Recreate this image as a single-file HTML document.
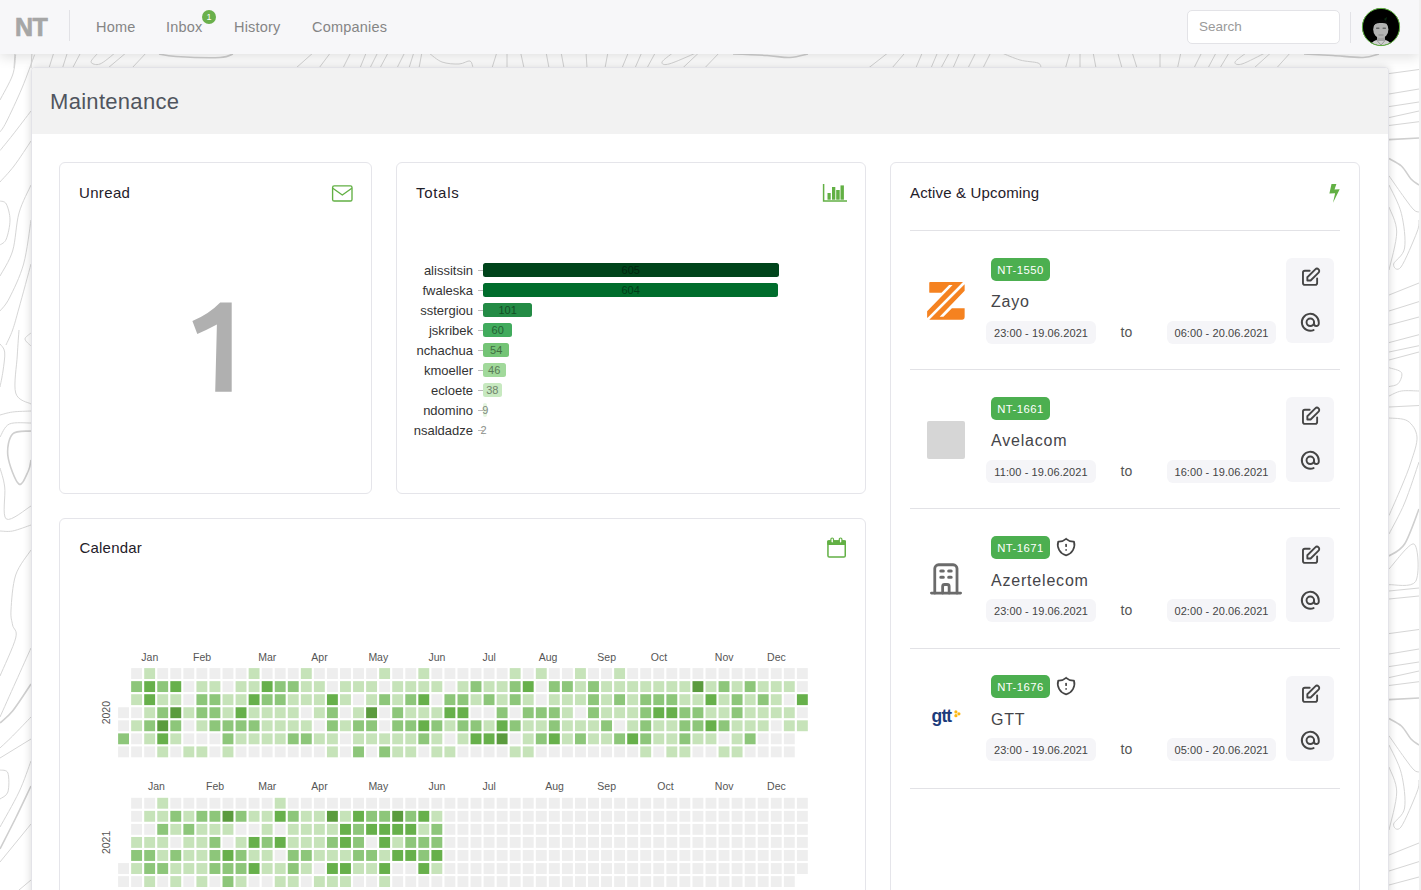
<!DOCTYPE html>
<html><head><meta charset="utf-8"><title>Maintenance</title>
<style>
*{box-sizing:border-box}
html,body{margin:0;padding:0;width:1421px;height:890px;overflow:hidden;background:#fff;font-family:"Liberation Sans",sans-serif;color:#333}
.a{position:absolute;white-space:nowrap}
.t{position:absolute;white-space:nowrap;line-height:1}
#nav{position:absolute;left:0;top:0;width:1419px;height:53.7px;background:#f7f7f9;box-shadow:0 3px 12px rgba(0,0,0,.13);z-index:5}
#sb{position:absolute;left:1419px;top:0;width:2px;height:890px;background:#f0f0f0;z-index:6}
.nl{position:absolute;font-size:14.5px;line-height:1;color:#858585;letter-spacing:.2px}
#cont{position:absolute;left:31px;top:67px;width:1358px;height:900px;background:#fff;border:1px solid #e3e3e8;border-radius:4px;box-shadow:0 0 8px rgba(0,0,0,.16);overflow:hidden}
#hdr{position:absolute;left:0;top:0;width:100%;height:66px;background:#f2f2f2}
.card{position:absolute;border:1px solid #e5e5ea;border-radius:6px;background:#fff}
.ct{position:absolute;font-size:15px;line-height:1;color:#1f2029}
.pill{position:absolute;height:22.5px;border-radius:6px;background:#f5f5f8;font-size:11px;color:#444;line-height:24px;text-align:center;letter-spacing:.1px}
.badge{position:absolute;height:23px;border-radius:5px;background:#4caf50;color:#fff;font-size:11.3px;line-height:25px;text-align:center;letter-spacing:.45px}
.cname{position:absolute;font-size:16px;line-height:1;color:#454549;letter-spacing:.8px}
.to{position:absolute;font-size:14px;line-height:1;color:#555}
.act{position:absolute;width:48px;height:85px;border-radius:6px;background:#f5f5f8}
.sep{position:absolute;left:910px;width:430px;height:1px;background:#e2e2e6}
.bl{position:absolute;font-size:13px;line-height:1;color:#333;text-align:right;width:80px}
.bar{position:absolute;height:14px;border-radius:2.5px}
.tick{position:absolute;width:5px;height:1px;background:#bbb}
.bv{position:absolute;font-size:11px;line-height:1;text-align:center}
</style></head>
<body>
<svg class="a" style="left:0;top:0" width="1421" height="890" fill="none"><path d="M15.0 52.0 L14.0 68.0 M32.0 52.0 L31.0 68.0 M54.0 52.0 L49.0 68.0 M67.6 52.0 L62.5 68.0 M81.0 52.0 L72.6 68.0 M127.0 52.0 L108.0 68.0 M147.0 52.0 L132.0 68.0 M314.0 52.0 L296.0 68.0 M331.0 52.0 L319.0 68.0 M351.0 52.0 L343.0 68.0 M366.5 52.0 L360.0 68.0 M378.0 52.0 L370.0 68.0 M388.5 52.0 L380.0 68.0 M405.0 52.0 L397.0 68.0 M414.0 52.0 L409.0 68.0 M422.0 52.0 L419.0 68.0 M497.0 52.0 L492.0 68.0 M507.0 52.0 L507.0 68.0 M520.5 52.0 L524.0 68.0 M546.0 52.0 L549.0 68.0 M561.0 52.0 L564.0 68.0 M586.0 52.0 L587.0 68.0 M608.0 52.0 L605.0 68.0 M628.6 52.0 L622.0 68.0 M642.0 52.0 L635.0 68.0 M655.7 52.0 L647.0 68.0 M699.6 52.0 L682.7 68.0 M720.0 52.0 L704.7 68.0 M889.0 52.0 L868.5 68.0 M905.7 52.0 L892.0 68.0 M922.6 52.0 L915.8 68.0 M937.8 52.0 L931.0 68.0 M949.6 52.0 L941.0 68.0 M960.0 52.0 L953.0 68.0 M976.0 52.0 L968.0 68.0 M991.0 52.0 L983.0 68.0 M1070.0 52.0 L1065.5 68.0 M1080.0 52.0 L1080.0 68.0 M1093.0 52.0 L1096.0 68.0 M1117.5 52.0 L1122.0 68.0 M1132.0 52.0 L1137.0 68.0 M1160.0 52.0 L1160.0 68.0 M1181.0 52.0 L1177.5 68.0 M1202.0 52.0 L1194.0 68.0 M1216.5 52.0 L1208.0 68.0 M1229.5 52.0 L1220.0 68.0 M1271.7 52.0 L1254.0 68.0 M1291.0 52.0 L1276.6 68.0 M98.0 53.0 C96.8 54.5 90.7 60.2 91.0 62.0 C91.3 63.8 96.0 65.5 100.0 64.0 C104.0 62.5 112.5 54.8 115.0 53.0 M429.0 53.0 C431.2 54.5 437.0 60.2 442.0 62.0 C447.0 63.8 454.3 64.2 459.0 64.0 C463.7 63.8 467.7 60.3 470.0 61.0 C472.3 61.7 472.5 66.8 473.0 68.0 M672.6 53.0 C670.8 54.5 662.6 60.2 662.0 62.0 C661.4 63.8 663.3 65.5 669.0 64.0 C674.7 62.5 691.5 54.8 696.0 53.0 M1002.0 53.0 C1005.0 54.2 1014.0 58.3 1020.0 60.0 C1026.0 61.7 1034.5 61.7 1038.0 63.0 C1041.5 64.3 1040.5 67.2 1041.0 68.0 M1246.0 53.0 C1244.2 54.5 1235.7 60.2 1235.0 62.0 C1234.3 63.8 1237.0 65.5 1242.0 64.0 C1247.0 62.5 1261.2 54.8 1265.0 53.0 M15.7 54.7 C15.2 58.1 15.2 67.5 12.6 75.0 C10.0 82.5 2.1 95.8 0.0 100.0 M34.6 54.7 C32.5 60.2 26.7 76.8 22.0 88.0 C17.3 99.2 10.0 114.7 6.3 122.0 C2.6 129.3 1.1 130.3 0.0 132.0 M31.0 111.0 C27.9 115.0 17.8 128.4 12.6 135.0 C7.4 141.6 2.1 148.0 0.0 150.6 M31.0 141.0 C28.2 145.2 19.2 159.2 14.0 166.0 C8.8 172.8 2.3 179.3 0.0 182.0 M0.0 201.0 C1.1 201.5 4.6 200.8 6.3 204.0 C8.0 207.2 10.0 214.2 10.0 220.0 C10.0 225.8 8.0 234.8 6.3 239.0 C4.6 243.2 1.1 244.0 0.0 245.0 M31.0 185.0 C29.0 189.7 22.1 202.0 19.0 213.0 C15.9 224.0 15.8 240.5 12.6 251.0 C9.4 261.5 2.1 271.8 0.0 276.0 M31.0 220.0 C29.8 227.3 27.2 251.0 23.6 264.0 C20.0 277.0 13.3 290.2 9.4 298.0 C5.5 305.8 1.6 308.8 0.0 311.0 M31.0 264.0 C29.0 271.3 22.1 297.0 19.0 308.0 C15.9 319.0 14.8 323.8 12.6 330.0 C10.4 336.2 7.1 342.5 6.0 345.0 M31.0 333.0 C30.0 334.0 25.0 336.8 25.0 339.0 C25.0 341.2 30.0 344.8 31.0 346.0 M19.0 330.0 C18.7 334.2 17.9 344.5 17.3 355.0 C16.8 365.5 13.4 384.8 15.7 393.0 C18.0 401.2 28.4 402.2 31.0 404.0 M0.0 344.0 C0.8 345.3 4.2 347.5 4.7 352.0 C5.2 356.5 3.8 365.2 3.0 371.0 C2.2 376.8 0.5 384.3 0.0 387.0 M0.0 415.0 C2.1 414.5 7.4 412.7 12.6 412.0 C17.8 411.3 27.9 411.2 31.0 411.0 M31.0 423.0 C27.4 423.2 14.6 421.7 9.4 424.0 C4.2 426.3 1.6 434.8 0.0 437.0 M0.0 468.0 C0.8 471.2 3.7 478.5 4.7 487.0 C5.8 495.5 1.9 515.8 6.3 519.0 C10.7 522.2 26.9 508.2 31.0 506.0 M0.0 531.0 C2.1 531.0 7.4 532.0 12.6 531.0 C17.8 530.0 27.9 526.0 31.0 525.0 M31.0 550.0 C28.4 554.2 19.0 565.0 15.7 575.0 C12.4 585.0 11.5 601.7 11.0 610.0 C10.5 618.3 11.8 620.3 12.6 625.0 C13.4 629.7 17.8 629.5 15.7 638.0 C13.6 646.5 2.6 669.7 0.0 676.0 M31.0 648.0 C28.4 653.7 20.9 670.5 15.7 682.0 C10.5 693.5 2.6 711.2 0.0 717.0 M31.0 717.0 C27.9 720.2 17.8 730.8 12.6 736.0 C7.4 741.2 2.1 746.0 0.0 748.0 M31.0 739.0 L0.0 758.0 M0.0 770.0 C1.3 770.5 6.6 769.3 7.9 773.0 C9.2 776.7 9.2 787.7 7.9 792.0 C6.6 796.3 1.3 797.8 0.0 799.0 M31.0 761.0 C29.0 766.2 24.2 781.0 19.0 792.0 C13.8 803.0 3.2 821.2 0.0 827.0 M31.0 824.0 L0.0 862.0 M31.0 880.0 L19.0 890.0 M1389.0 73.6 L1419.0 69.5 M1389.0 94.0 L1419.0 89.0 M1389.0 106.6 L1419.0 102.0 M1389.0 117.6 L1419.0 111.0 M1389.0 125.5 L1419.0 121.7 M1389.0 175.8 C1391.6 179.5 1400.4 192.3 1404.6 198.0 C1408.8 203.7 1411.6 207.7 1414.0 210.0 C1416.4 212.3 1418.2 211.7 1419.0 212.0 M1389.0 207.0 C1390.3 211.2 1396.7 221.5 1396.7 232.0 C1396.7 242.5 1390.3 263.7 1389.0 270.0 M1389.0 185.0 C1391.1 189.8 1398.8 203.0 1401.4 213.5 C1404.0 224.0 1405.9 239.6 1404.6 248.0 C1403.3 256.4 1394.2 260.8 1393.6 264.0 C1393.0 267.2 1397.1 272.3 1401.0 267.0 C1404.9 261.7 1414.0 239.8 1417.0 232.0 C1420.0 224.2 1418.7 222.0 1419.0 220.0 M1389.0 295.0 L1419.0 283.0 M1389.0 311.0 L1419.0 301.6 M1389.0 325.0 L1419.0 317.0 M1389.0 633.6 L1419.0 629.5 M1389.0 654.0 L1419.0 649.0 M1389.0 666.6 L1419.0 662.0 M1389.0 677.6 L1419.0 671.0 M1389.0 685.5 L1419.0 681.7 M1389.0 735.8 C1391.6 739.5 1400.4 752.3 1404.6 758.0 C1408.8 763.7 1411.6 767.7 1414.0 770.0 C1416.4 772.3 1418.2 771.7 1419.0 772.0 M1389.0 767.0 C1390.3 771.2 1396.7 781.5 1396.7 792.0 C1396.7 802.5 1390.3 823.7 1389.0 830.0 M1389.0 745.0 C1391.1 749.8 1398.8 763.0 1401.4 773.5 C1404.0 784.0 1405.9 799.6 1404.6 808.0 C1403.3 816.4 1394.2 820.8 1393.6 824.0 C1393.0 827.2 1397.1 832.3 1401.0 827.0 C1404.9 821.7 1414.0 799.8 1417.0 792.0 C1420.0 784.2 1418.7 782.0 1419.0 780.0 M1389.0 855.0 L1419.0 843.0 M1389.0 871.0 L1419.0 861.6 M1389.0 885.0 L1419.0 877.0 M1389.0 342.6 L1419.0 334.7 M1389.0 352.0 L1419.0 345.7 M1389.0 360.0 L1419.0 352.0 M1389.0 367.7 C1391.1 368.5 1399.9 369.9 1401.4 372.5 C1403.0 375.1 1400.4 381.1 1398.3 383.5 C1396.2 385.9 1390.5 386.1 1389.0 386.6 M1389.0 396.0 C1391.1 395.2 1396.4 391.8 1401.4 391.0 C1406.4 390.2 1416.1 391.0 1419.0 391.0 M1389.0 407.0 L1419.0 405.5 M1389.0 418.0 C1392.1 418.5 1403.0 417.8 1407.7 421.0 C1412.4 424.2 1416.5 430.2 1417.0 437.0 C1417.5 443.8 1413.6 453.7 1411.0 462.0 C1408.4 470.3 1405.1 478.1 1401.4 487.0 C1397.7 495.9 1391.1 510.8 1389.0 515.5 M1419.0 462.0 C1416.6 468.8 1409.6 491.0 1404.6 503.0 C1399.6 515.0 1391.6 528.8 1389.0 534.0 M1389.0 569.0 C1393.2 564.8 1409.6 541.9 1414.0 544.0 C1418.4 546.1 1419.8 574.7 1415.6 581.5 C1411.4 588.3 1393.4 584.2 1389.0 584.7 M1389.0 591.0 L1419.0 588.0 M1389.0 599.0 L1419.0 596.0" stroke="#d6d6d6" stroke-width="1"/><path d="M159.0 54.0 C161.8 54.4 165.8 55.9 176.0 56.5 C186.2 57.1 210.5 57.9 220.0 57.5 C229.5 57.1 230.8 54.6 233.0 54.0 M733.0 54.0 C738.7 54.2 757.5 54.9 767.0 55.5 C776.5 56.1 783.2 57.8 790.0 57.5 C796.8 57.2 805.0 54.6 808.0 54.0 M1304.0 54.0 C1308.8 54.2 1323.2 54.9 1333.0 55.5 C1342.8 56.1 1355.3 57.8 1363.0 57.5 C1370.7 57.2 1376.3 54.6 1379.0 54.0 M31.0 431.0 C27.9 431.5 16.4 429.8 12.6 434.0 C8.8 438.2 6.9 447.7 7.9 456.0 C8.9 464.3 15.5 481.5 18.9 484.0 C22.3 486.5 26.3 475.0 28.3 471.0 C30.3 467.0 30.6 461.8 31.0 460.0 M31.0 684.0 C27.9 688.5 17.8 704.5 12.6 711.0 C7.4 717.5 2.1 721.0 0.0 723.0 M31.0 786.0 C28.4 791.3 20.9 807.5 15.7 818.0 C10.5 828.5 2.6 843.8 0.0 849.0 M1389.0 139.6 L1419.0 138.0 M1389.0 158.5 C1391.1 159.8 1397.7 162.6 1401.4 166.0 C1405.1 169.4 1408.1 175.8 1411.0 179.0 C1413.9 182.2 1417.7 184.0 1419.0 185.0 M1389.0 699.6 L1419.0 698.0 M1389.0 718.5 C1391.1 719.8 1397.7 722.6 1401.4 726.0 C1405.1 729.4 1408.1 735.8 1411.0 739.0 C1413.9 742.2 1417.7 744.0 1419.0 745.0 M1419.0 509.0 C1416.6 514.8 1409.6 536.2 1404.6 544.0 C1399.6 551.8 1391.6 554.0 1389.0 556.0" stroke="#cfcfcf" stroke-width="1.6"/></svg>
<div id="nav">
  <div class="t" style="left:15px;top:15.2px;font-size:25px;font-weight:bold;color:#a6a6a6;letter-spacing:-0.6px;-webkit-text-stroke:.7px #a6a6a6">NT</div>
  <div class="a" style="left:69px;top:10px;width:1px;height:31px;background:#e2e2e6"></div>
  <div class="nl" style="left:96px;top:20px">Home</div>
  <div class="nl" style="left:166px;top:20px">Inbox</div>
  <div class="a" style="left:202px;top:10px;width:14px;height:14px;border-radius:50%;background:#6ab04c;color:#fff;font-size:9px;line-height:14px;text-align:center">1</div>
  <div class="nl" style="left:234px;top:20px">History</div>
  <div class="nl" style="left:312px;top:20px">Companies</div>
  <div class="a" style="left:1187px;top:10px;width:153px;height:34px;border:1px solid #e3e3e7;border-radius:5px;background:#fff"></div>
  <div class="t" style="left:1199px;top:20.2px;font-size:13.5px;color:#9a9a9a">Search</div>
  <div class="a" style="left:1350px;top:12px;width:1px;height:31px;background:#e2e2e6"></div>
  <svg class="a" style="left:1361px;top:7px" width="40" height="40" viewBox="0 0 40 40">
    <defs><clipPath id="avc"><circle cx="20" cy="20" r="18.3"/></clipPath></defs>
    <circle cx="20" cy="20" r="18.8" fill="#000"/>
    <g clip-path="url(#avc)">
      <path d="M9 40 Q10 33 20 32 Q30 33 31 40Z" fill="#cfcfcf"/>
      <path d="M15.5 33 L20 38 L24.5 33" fill="none" stroke="#888" stroke-width=".8"/>
      <rect x="16" y="27" width="8" height="7" fill="#a0a0a0"/>
      <ellipse cx="19.8" cy="22.5" rx="7.6" ry="8.8" fill="#b2b2b2"/>
      <path d="M11.5 20 Q11 12 19.5 12.5 Q27 12 28.5 19 Q26 15.5 20 16 Q14 15.5 11.5 20Z" fill="#050505"/>
      <path d="M23 12 L26 10 L25 14Z" fill="#0a2a10"/>
      <rect x="15" y="20.5" width="3.5" height="1.4" rx=".6" fill="#666"/><rect x="21.5" y="20.5" width="3.5" height="1.4" rx=".6" fill="#666"/>
      <rect x="17.5" y="27.5" width="5" height="1" fill="#888"/>
    </g>
    <circle cx="20" cy="20" r="18.6" fill="none" stroke="#5fb33f" stroke-width="1"/>
  </svg>
</div>
<div id="sb"></div>

<div id="cont"><div id="hdr"></div></div>
<div class="t" style="left:50px;top:90.5px;font-size:22px;color:#50555e;letter-spacing:.3px">Maintenance</div>

<!-- Unread -->
<div class="card" style="left:59px;top:162px;width:313px;height:332px"></div>
<div class="ct" style="left:79px;top:185.3px;letter-spacing:.35px">Unread</div>
<svg class="a" style="left:331px;top:184px" width="23" height="19" viewBox="0 0 23 19">
  <rect x="1.6" y="1.8" width="19.4" height="15.2" rx="1.6" fill="none" stroke="#62b044" stroke-width="1.35"/>
  <path d="M1.8 4.2 L11.3 11 L20.8 4.2" fill="none" stroke="#62b044" stroke-width="1.35" stroke-linejoin="round"/>
</svg>
<svg class="a" style="left:0;top:0" width="300" height="400"><path d="M220.2 302.4 H231.7 V391.7 H215.2 L216.9 324.6 Q207 330 197.3 333.9 L192.4 320.9 Q209 314 220.2 302.4Z" fill="#b0b0b0"/></svg>

<!-- Totals -->
<div class="card" style="left:396px;top:162px;width:470px;height:332px"></div>
<div class="ct" style="left:416px;top:185.3px;letter-spacing:.7px">Totals</div>
<svg class="a" style="left:821px;top:182px" width="28" height="22" viewBox="0 0 28 22">
  <path d="M2.6 2 V18.9 H26" fill="none" stroke="#62b044" stroke-width="1.5"/>
  <rect x="6.5" y="11" width="3.2" height="6.7" fill="#62b044"/>
  <rect x="11" y="5" width="3.3" height="12.7" fill="#62b044"/>
  <rect x="15.2" y="8" width="3.5" height="9.7" fill="#62b044"/>
  <rect x="19.5" y="3.4" width="3.4" height="14.3" fill="#62b044"/>
</svg>
<div class="bl" style="left:393px;top:263.7px">alissitsin</div><div class="tick" style="left:478px;top:269.9px"></div><div class="bar" style="left:483px;top:263.4px;width:295.6px;background:#00441b"></div><div class="bv" style="left:610.8px;top:265.1px;width:40px;color:#00260f">605</div><div class="bl" style="left:393px;top:283.7px">fwaleska</div><div class="tick" style="left:478px;top:289.9px"></div><div class="bar" style="left:483px;top:283.4px;width:295.1px;background:#006d2c"></div><div class="bv" style="left:610.6px;top:285.1px;width:40px;color:#003d18">604</div><div class="bl" style="left:393px;top:303.7px">sstergiou</div><div class="tick" style="left:478px;top:309.9px"></div><div class="bar" style="left:483px;top:303.4px;width:49.3px;background:#238b45"></div><div class="bv" style="left:487.7px;top:305.1px;width:40px;color:#134e26">101</div><div class="bl" style="left:393px;top:323.7px">jskribek</div><div class="tick" style="left:478px;top:329.9px"></div><div class="bar" style="left:483px;top:323.4px;width:29.3px;background:#41ab5d"></div><div class="bv" style="left:477.7px;top:325.1px;width:40px;color:#246034">60</div><div class="bl" style="left:393px;top:343.7px">nchachua</div><div class="tick" style="left:478px;top:349.9px"></div><div class="bar" style="left:483px;top:343.4px;width:26.4px;background:#74c476"></div><div class="bv" style="left:476.2px;top:345.1px;width:40px;color:#416e42">54</div><div class="bl" style="left:393px;top:363.7px">kmoeller</div><div class="tick" style="left:478px;top:369.9px"></div><div class="bar" style="left:483px;top:363.4px;width:22.5px;background:#a1d99b"></div><div class="bv" style="left:474.2px;top:365.1px;width:40px;color:#5a7a57">46</div><div class="bl" style="left:393px;top:383.7px">ecloete</div><div class="tick" style="left:478px;top:389.9px"></div><div class="bar" style="left:483px;top:383.4px;width:18.6px;background:#c7e9c0"></div><div class="bv" style="left:472.3px;top:385.1px;width:40px;color:#70836c">38</div><div class="bl" style="left:393px;top:403.7px">ndomino</div><div class="tick" style="left:478px;top:409.9px"></div><div class="bar" style="left:483px;top:403.4px;width:4.4px;background:#e5f5e0"></div><div class="bv" style="left:465.2px;top:405.1px;width:40px;color:#818a7e">9</div><div class="bl" style="left:393px;top:423.7px">nsaldadze</div><div class="tick" style="left:478px;top:429.9px"></div><div class="bar" style="left:483px;top:423.4px;width:1.0px;background:#f7fcf5"></div><div class="bv" style="left:463.5px;top:425.1px;width:40px;color:#8b8e8a">2</div>

<!-- Calendar -->
<div class="card" style="left:59px;top:518px;width:807px;height:420px"></div>
<div class="ct" style="left:79.5px;top:540px;letter-spacing:.2px">Calendar</div>
<svg class="a" style="left:825px;top:535px" width="23" height="25" viewBox="0 0 23 25">
  <rect x="2.95" y="6.05" width="17.3" height="15.9" rx="1.3" fill="none" stroke="#62b044" stroke-width="1.5"/>
  <rect x="2.2" y="5.3" width="18.8" height="4.6" rx="1" fill="#62b044"/>
  <rect x="5.9" y="3" width="2.6" height="5" rx="1.3" fill="#fff" stroke="#62b044" stroke-width="1.2"/>
  <rect x="14.3" y="3" width="2.6" height="5" rx="1.3" fill="#fff" stroke="#62b044" stroke-width="1.2"/>
</svg>
<svg class="cal" width="1421" height="890" style="position:absolute;left:0;top:0" font-family="Liberation Sans, sans-serif" font-size="10.5" fill="#555"><rect x="118.10" y="707.26" width="10.9" height="10.9" fill="#eeeeee"/><rect x="118.10" y="720.32" width="10.9" height="10.9" fill="#eeeeee"/><rect x="118.10" y="733.37" width="10.9" height="10.9" fill="#8dc67a"/><rect x="118.10" y="746.42" width="10.9" height="10.9" fill="#eeeeee"/><rect x="131.15" y="668.10" width="10.9" height="10.9" fill="#eeeeee"/><rect x="131.15" y="681.15" width="10.9" height="10.9" fill="#8dc67a"/><rect x="131.15" y="694.21" width="10.9" height="10.9" fill="#c6e3b9"/><rect x="131.15" y="707.26" width="10.9" height="10.9" fill="#eeeeee"/><rect x="131.15" y="720.32" width="10.9" height="10.9" fill="#c6e3b9"/><rect x="131.15" y="733.37" width="10.9" height="10.9" fill="#eeeeee"/><rect x="131.15" y="746.42" width="10.9" height="10.9" fill="#eeeeee"/><rect x="144.21" y="668.10" width="10.9" height="10.9" fill="#c6e3b9"/><rect x="144.21" y="681.15" width="10.9" height="10.9" fill="#67b04b"/><rect x="144.21" y="694.21" width="10.9" height="10.9" fill="#67b04b"/><rect x="144.21" y="707.26" width="10.9" height="10.9" fill="#c6e3b9"/><rect x="144.21" y="720.32" width="10.9" height="10.9" fill="#8dc67a"/><rect x="144.21" y="733.37" width="10.9" height="10.9" fill="#c6e3b9"/><rect x="144.21" y="746.42" width="10.9" height="10.9" fill="#eeeeee"/><rect x="157.26" y="668.10" width="10.9" height="10.9" fill="#eeeeee"/><rect x="157.26" y="681.15" width="10.9" height="10.9" fill="#8dc67a"/><rect x="157.26" y="694.21" width="10.9" height="10.9" fill="#c6e3b9"/><rect x="157.26" y="707.26" width="10.9" height="10.9" fill="#8dc67a"/><rect x="157.26" y="720.32" width="10.9" height="10.9" fill="#5b9b3e"/><rect x="157.26" y="733.37" width="10.9" height="10.9" fill="#67b04b"/><rect x="157.26" y="746.42" width="10.9" height="10.9" fill="#c6e3b9"/><rect x="170.32" y="668.10" width="10.9" height="10.9" fill="#eeeeee"/><rect x="170.32" y="681.15" width="10.9" height="10.9" fill="#67b04b"/><rect x="170.32" y="694.21" width="10.9" height="10.9" fill="#c6e3b9"/><rect x="170.32" y="707.26" width="10.9" height="10.9" fill="#5b9b3e"/><rect x="170.32" y="720.32" width="10.9" height="10.9" fill="#8dc67a"/><rect x="170.32" y="733.37" width="10.9" height="10.9" fill="#c6e3b9"/><rect x="170.32" y="746.42" width="10.9" height="10.9" fill="#eeeeee"/><rect x="183.37" y="668.10" width="10.9" height="10.9" fill="#eeeeee"/><rect x="183.37" y="681.15" width="10.9" height="10.9" fill="#eeeeee"/><rect x="183.37" y="694.21" width="10.9" height="10.9" fill="#eeeeee"/><rect x="183.37" y="707.26" width="10.9" height="10.9" fill="#c6e3b9"/><rect x="183.37" y="720.32" width="10.9" height="10.9" fill="#eeeeee"/><rect x="183.37" y="733.37" width="10.9" height="10.9" fill="#eeeeee"/><rect x="183.37" y="746.42" width="10.9" height="10.9" fill="#c6e3b9"/><rect x="196.42" y="668.10" width="10.9" height="10.9" fill="#eeeeee"/><rect x="196.42" y="681.15" width="10.9" height="10.9" fill="#c6e3b9"/><rect x="196.42" y="694.21" width="10.9" height="10.9" fill="#8dc67a"/><rect x="196.42" y="707.26" width="10.9" height="10.9" fill="#8dc67a"/><rect x="196.42" y="720.32" width="10.9" height="10.9" fill="#c6e3b9"/><rect x="196.42" y="733.37" width="10.9" height="10.9" fill="#eeeeee"/><rect x="196.42" y="746.42" width="10.9" height="10.9" fill="#c6e3b9"/><rect x="209.48" y="668.10" width="10.9" height="10.9" fill="#eeeeee"/><rect x="209.48" y="681.15" width="10.9" height="10.9" fill="#c6e3b9"/><rect x="209.48" y="694.21" width="10.9" height="10.9" fill="#8dc67a"/><rect x="209.48" y="707.26" width="10.9" height="10.9" fill="#8dc67a"/><rect x="209.48" y="720.32" width="10.9" height="10.9" fill="#8dc67a"/><rect x="209.48" y="733.37" width="10.9" height="10.9" fill="#eeeeee"/><rect x="209.48" y="746.42" width="10.9" height="10.9" fill="#eeeeee"/><rect x="222.53" y="668.10" width="10.9" height="10.9" fill="#eeeeee"/><rect x="222.53" y="681.15" width="10.9" height="10.9" fill="#eeeeee"/><rect x="222.53" y="694.21" width="10.9" height="10.9" fill="#c6e3b9"/><rect x="222.53" y="707.26" width="10.9" height="10.9" fill="#c6e3b9"/><rect x="222.53" y="720.32" width="10.9" height="10.9" fill="#8dc67a"/><rect x="222.53" y="733.37" width="10.9" height="10.9" fill="#8dc67a"/><rect x="222.53" y="746.42" width="10.9" height="10.9" fill="#c6e3b9"/><rect x="235.59" y="668.10" width="10.9" height="10.9" fill="#eeeeee"/><rect x="235.59" y="681.15" width="10.9" height="10.9" fill="#c6e3b9"/><rect x="235.59" y="694.21" width="10.9" height="10.9" fill="#c6e3b9"/><rect x="235.59" y="707.26" width="10.9" height="10.9" fill="#67b04b"/><rect x="235.59" y="720.32" width="10.9" height="10.9" fill="#8dc67a"/><rect x="235.59" y="733.37" width="10.9" height="10.9" fill="#c6e3b9"/><rect x="235.59" y="746.42" width="10.9" height="10.9" fill="#eeeeee"/><rect x="248.64" y="668.10" width="10.9" height="10.9" fill="#c6e3b9"/><rect x="248.64" y="681.15" width="10.9" height="10.9" fill="#c6e3b9"/><rect x="248.64" y="694.21" width="10.9" height="10.9" fill="#67b04b"/><rect x="248.64" y="707.26" width="10.9" height="10.9" fill="#c6e3b9"/><rect x="248.64" y="720.32" width="10.9" height="10.9" fill="#8dc67a"/><rect x="248.64" y="733.37" width="10.9" height="10.9" fill="#c6e3b9"/><rect x="248.64" y="746.42" width="10.9" height="10.9" fill="#eeeeee"/><rect x="261.69" y="668.10" width="10.9" height="10.9" fill="#eeeeee"/><rect x="261.69" y="681.15" width="10.9" height="10.9" fill="#67b04b"/><rect x="261.69" y="694.21" width="10.9" height="10.9" fill="#8dc67a"/><rect x="261.69" y="707.26" width="10.9" height="10.9" fill="#c6e3b9"/><rect x="261.69" y="720.32" width="10.9" height="10.9" fill="#c6e3b9"/><rect x="261.69" y="733.37" width="10.9" height="10.9" fill="#c6e3b9"/><rect x="261.69" y="746.42" width="10.9" height="10.9" fill="#eeeeee"/><rect x="274.75" y="668.10" width="10.9" height="10.9" fill="#eeeeee"/><rect x="274.75" y="681.15" width="10.9" height="10.9" fill="#8dc67a"/><rect x="274.75" y="694.21" width="10.9" height="10.9" fill="#8dc67a"/><rect x="274.75" y="707.26" width="10.9" height="10.9" fill="#c6e3b9"/><rect x="274.75" y="720.32" width="10.9" height="10.9" fill="#c6e3b9"/><rect x="274.75" y="733.37" width="10.9" height="10.9" fill="#c6e3b9"/><rect x="274.75" y="746.42" width="10.9" height="10.9" fill="#eeeeee"/><rect x="287.80" y="668.10" width="10.9" height="10.9" fill="#eeeeee"/><rect x="287.80" y="681.15" width="10.9" height="10.9" fill="#8dc67a"/><rect x="287.80" y="694.21" width="10.9" height="10.9" fill="#c6e3b9"/><rect x="287.80" y="707.26" width="10.9" height="10.9" fill="#c6e3b9"/><rect x="287.80" y="720.32" width="10.9" height="10.9" fill="#c6e3b9"/><rect x="287.80" y="733.37" width="10.9" height="10.9" fill="#8dc67a"/><rect x="287.80" y="746.42" width="10.9" height="10.9" fill="#eeeeee"/><rect x="300.86" y="668.10" width="10.9" height="10.9" fill="#c6e3b9"/><rect x="300.86" y="681.15" width="10.9" height="10.9" fill="#c6e3b9"/><rect x="300.86" y="694.21" width="10.9" height="10.9" fill="#c6e3b9"/><rect x="300.86" y="707.26" width="10.9" height="10.9" fill="#eeeeee"/><rect x="300.86" y="720.32" width="10.9" height="10.9" fill="#c6e3b9"/><rect x="300.86" y="733.37" width="10.9" height="10.9" fill="#8dc67a"/><rect x="300.86" y="746.42" width="10.9" height="10.9" fill="#eeeeee"/><rect x="313.91" y="668.10" width="10.9" height="10.9" fill="#eeeeee"/><rect x="313.91" y="681.15" width="10.9" height="10.9" fill="#c6e3b9"/><rect x="313.91" y="694.21" width="10.9" height="10.9" fill="#c6e3b9"/><rect x="313.91" y="707.26" width="10.9" height="10.9" fill="#c6e3b9"/><rect x="313.91" y="720.32" width="10.9" height="10.9" fill="#eeeeee"/><rect x="313.91" y="733.37" width="10.9" height="10.9" fill="#c6e3b9"/><rect x="313.91" y="746.42" width="10.9" height="10.9" fill="#eeeeee"/><rect x="326.96" y="668.10" width="10.9" height="10.9" fill="#eeeeee"/><rect x="326.96" y="681.15" width="10.9" height="10.9" fill="#eeeeee"/><rect x="326.96" y="694.21" width="10.9" height="10.9" fill="#67b04b"/><rect x="326.96" y="707.26" width="10.9" height="10.9" fill="#8dc67a"/><rect x="326.96" y="720.32" width="10.9" height="10.9" fill="#8dc67a"/><rect x="326.96" y="733.37" width="10.9" height="10.9" fill="#c6e3b9"/><rect x="326.96" y="746.42" width="10.9" height="10.9" fill="#c6e3b9"/><rect x="340.02" y="668.10" width="10.9" height="10.9" fill="#eeeeee"/><rect x="340.02" y="681.15" width="10.9" height="10.9" fill="#c6e3b9"/><rect x="340.02" y="694.21" width="10.9" height="10.9" fill="#c6e3b9"/><rect x="340.02" y="707.26" width="10.9" height="10.9" fill="#eeeeee"/><rect x="340.02" y="720.32" width="10.9" height="10.9" fill="#c6e3b9"/><rect x="340.02" y="733.37" width="10.9" height="10.9" fill="#eeeeee"/><rect x="340.02" y="746.42" width="10.9" height="10.9" fill="#eeeeee"/><rect x="353.07" y="668.10" width="10.9" height="10.9" fill="#eeeeee"/><rect x="353.07" y="681.15" width="10.9" height="10.9" fill="#c6e3b9"/><rect x="353.07" y="694.21" width="10.9" height="10.9" fill="#eeeeee"/><rect x="353.07" y="707.26" width="10.9" height="10.9" fill="#c6e3b9"/><rect x="353.07" y="720.32" width="10.9" height="10.9" fill="#8dc67a"/><rect x="353.07" y="733.37" width="10.9" height="10.9" fill="#c6e3b9"/><rect x="353.07" y="746.42" width="10.9" height="10.9" fill="#8dc67a"/><rect x="366.13" y="668.10" width="10.9" height="10.9" fill="#eeeeee"/><rect x="366.13" y="681.15" width="10.9" height="10.9" fill="#c6e3b9"/><rect x="366.13" y="694.21" width="10.9" height="10.9" fill="#c6e3b9"/><rect x="366.13" y="707.26" width="10.9" height="10.9" fill="#5b9b3e"/><rect x="366.13" y="720.32" width="10.9" height="10.9" fill="#8dc67a"/><rect x="366.13" y="733.37" width="10.9" height="10.9" fill="#c6e3b9"/><rect x="366.13" y="746.42" width="10.9" height="10.9" fill="#eeeeee"/><rect x="379.18" y="668.10" width="10.9" height="10.9" fill="#c6e3b9"/><rect x="379.18" y="681.15" width="10.9" height="10.9" fill="#eeeeee"/><rect x="379.18" y="694.21" width="10.9" height="10.9" fill="#8dc67a"/><rect x="379.18" y="707.26" width="10.9" height="10.9" fill="#eeeeee"/><rect x="379.18" y="720.32" width="10.9" height="10.9" fill="#eeeeee"/><rect x="379.18" y="733.37" width="10.9" height="10.9" fill="#c6e3b9"/><rect x="379.18" y="746.42" width="10.9" height="10.9" fill="#8dc67a"/><rect x="392.23" y="668.10" width="10.9" height="10.9" fill="#eeeeee"/><rect x="392.23" y="681.15" width="10.9" height="10.9" fill="#c6e3b9"/><rect x="392.23" y="694.21" width="10.9" height="10.9" fill="#c6e3b9"/><rect x="392.23" y="707.26" width="10.9" height="10.9" fill="#8dc67a"/><rect x="392.23" y="720.32" width="10.9" height="10.9" fill="#8dc67a"/><rect x="392.23" y="733.37" width="10.9" height="10.9" fill="#c6e3b9"/><rect x="392.23" y="746.42" width="10.9" height="10.9" fill="#c6e3b9"/><rect x="405.29" y="668.10" width="10.9" height="10.9" fill="#eeeeee"/><rect x="405.29" y="681.15" width="10.9" height="10.9" fill="#c6e3b9"/><rect x="405.29" y="694.21" width="10.9" height="10.9" fill="#8dc67a"/><rect x="405.29" y="707.26" width="10.9" height="10.9" fill="#c6e3b9"/><rect x="405.29" y="720.32" width="10.9" height="10.9" fill="#8dc67a"/><rect x="405.29" y="733.37" width="10.9" height="10.9" fill="#c6e3b9"/><rect x="405.29" y="746.42" width="10.9" height="10.9" fill="#c6e3b9"/><rect x="418.34" y="668.10" width="10.9" height="10.9" fill="#c6e3b9"/><rect x="418.34" y="681.15" width="10.9" height="10.9" fill="#c6e3b9"/><rect x="418.34" y="694.21" width="10.9" height="10.9" fill="#67b04b"/><rect x="418.34" y="707.26" width="10.9" height="10.9" fill="#c6e3b9"/><rect x="418.34" y="720.32" width="10.9" height="10.9" fill="#67b04b"/><rect x="418.34" y="733.37" width="10.9" height="10.9" fill="#8dc67a"/><rect x="418.34" y="746.42" width="10.9" height="10.9" fill="#eeeeee"/><rect x="431.40" y="668.10" width="10.9" height="10.9" fill="#eeeeee"/><rect x="431.40" y="681.15" width="10.9" height="10.9" fill="#c6e3b9"/><rect x="431.40" y="694.21" width="10.9" height="10.9" fill="#eeeeee"/><rect x="431.40" y="707.26" width="10.9" height="10.9" fill="#c6e3b9"/><rect x="431.40" y="720.32" width="10.9" height="10.9" fill="#8dc67a"/><rect x="431.40" y="733.37" width="10.9" height="10.9" fill="#c6e3b9"/><rect x="431.40" y="746.42" width="10.9" height="10.9" fill="#c6e3b9"/><rect x="444.45" y="668.10" width="10.9" height="10.9" fill="#eeeeee"/><rect x="444.45" y="681.15" width="10.9" height="10.9" fill="#eeeeee"/><rect x="444.45" y="694.21" width="10.9" height="10.9" fill="#8dc67a"/><rect x="444.45" y="707.26" width="10.9" height="10.9" fill="#67b04b"/><rect x="444.45" y="720.32" width="10.9" height="10.9" fill="#c6e3b9"/><rect x="444.45" y="733.37" width="10.9" height="10.9" fill="#eeeeee"/><rect x="444.45" y="746.42" width="10.9" height="10.9" fill="#c6e3b9"/><rect x="457.50" y="668.10" width="10.9" height="10.9" fill="#eeeeee"/><rect x="457.50" y="681.15" width="10.9" height="10.9" fill="#c6e3b9"/><rect x="457.50" y="694.21" width="10.9" height="10.9" fill="#8dc67a"/><rect x="457.50" y="707.26" width="10.9" height="10.9" fill="#67b04b"/><rect x="457.50" y="720.32" width="10.9" height="10.9" fill="#8dc67a"/><rect x="457.50" y="733.37" width="10.9" height="10.9" fill="#c6e3b9"/><rect x="457.50" y="746.42" width="10.9" height="10.9" fill="#eeeeee"/><rect x="470.56" y="668.10" width="10.9" height="10.9" fill="#eeeeee"/><rect x="470.56" y="681.15" width="10.9" height="10.9" fill="#8dc67a"/><rect x="470.56" y="694.21" width="10.9" height="10.9" fill="#c6e3b9"/><rect x="470.56" y="707.26" width="10.9" height="10.9" fill="#eeeeee"/><rect x="470.56" y="720.32" width="10.9" height="10.9" fill="#8dc67a"/><rect x="470.56" y="733.37" width="10.9" height="10.9" fill="#67b04b"/><rect x="470.56" y="746.42" width="10.9" height="10.9" fill="#eeeeee"/><rect x="483.61" y="668.10" width="10.9" height="10.9" fill="#eeeeee"/><rect x="483.61" y="681.15" width="10.9" height="10.9" fill="#c6e3b9"/><rect x="483.61" y="694.21" width="10.9" height="10.9" fill="#8dc67a"/><rect x="483.61" y="707.26" width="10.9" height="10.9" fill="#eeeeee"/><rect x="483.61" y="720.32" width="10.9" height="10.9" fill="#c6e3b9"/><rect x="483.61" y="733.37" width="10.9" height="10.9" fill="#67b04b"/><rect x="483.61" y="746.42" width="10.9" height="10.9" fill="#eeeeee"/><rect x="496.67" y="668.10" width="10.9" height="10.9" fill="#eeeeee"/><rect x="496.67" y="681.15" width="10.9" height="10.9" fill="#c6e3b9"/><rect x="496.67" y="694.21" width="10.9" height="10.9" fill="#c6e3b9"/><rect x="496.67" y="707.26" width="10.9" height="10.9" fill="#8dc67a"/><rect x="496.67" y="720.32" width="10.9" height="10.9" fill="#67b04b"/><rect x="496.67" y="733.37" width="10.9" height="10.9" fill="#5b9b3e"/><rect x="496.67" y="746.42" width="10.9" height="10.9" fill="#eeeeee"/><rect x="509.72" y="668.10" width="10.9" height="10.9" fill="#c6e3b9"/><rect x="509.72" y="681.15" width="10.9" height="10.9" fill="#8dc67a"/><rect x="509.72" y="694.21" width="10.9" height="10.9" fill="#8dc67a"/><rect x="509.72" y="707.26" width="10.9" height="10.9" fill="#eeeeee"/><rect x="509.72" y="720.32" width="10.9" height="10.9" fill="#8dc67a"/><rect x="509.72" y="733.37" width="10.9" height="10.9" fill="#eeeeee"/><rect x="509.72" y="746.42" width="10.9" height="10.9" fill="#c6e3b9"/><rect x="522.77" y="668.10" width="10.9" height="10.9" fill="#eeeeee"/><rect x="522.77" y="681.15" width="10.9" height="10.9" fill="#67b04b"/><rect x="522.77" y="694.21" width="10.9" height="10.9" fill="#c6e3b9"/><rect x="522.77" y="707.26" width="10.9" height="10.9" fill="#8dc67a"/><rect x="522.77" y="720.32" width="10.9" height="10.9" fill="#c6e3b9"/><rect x="522.77" y="733.37" width="10.9" height="10.9" fill="#c6e3b9"/><rect x="522.77" y="746.42" width="10.9" height="10.9" fill="#c6e3b9"/><rect x="535.83" y="668.10" width="10.9" height="10.9" fill="#c6e3b9"/><rect x="535.83" y="681.15" width="10.9" height="10.9" fill="#eeeeee"/><rect x="535.83" y="694.21" width="10.9" height="10.9" fill="#eeeeee"/><rect x="535.83" y="707.26" width="10.9" height="10.9" fill="#8dc67a"/><rect x="535.83" y="720.32" width="10.9" height="10.9" fill="#c6e3b9"/><rect x="535.83" y="733.37" width="10.9" height="10.9" fill="#8dc67a"/><rect x="535.83" y="746.42" width="10.9" height="10.9" fill="#eeeeee"/><rect x="548.88" y="668.10" width="10.9" height="10.9" fill="#eeeeee"/><rect x="548.88" y="681.15" width="10.9" height="10.9" fill="#8dc67a"/><rect x="548.88" y="694.21" width="10.9" height="10.9" fill="#c6e3b9"/><rect x="548.88" y="707.26" width="10.9" height="10.9" fill="#8dc67a"/><rect x="548.88" y="720.32" width="10.9" height="10.9" fill="#8dc67a"/><rect x="548.88" y="733.37" width="10.9" height="10.9" fill="#67b04b"/><rect x="548.88" y="746.42" width="10.9" height="10.9" fill="#eeeeee"/><rect x="561.94" y="668.10" width="10.9" height="10.9" fill="#eeeeee"/><rect x="561.94" y="681.15" width="10.9" height="10.9" fill="#8dc67a"/><rect x="561.94" y="694.21" width="10.9" height="10.9" fill="#c6e3b9"/><rect x="561.94" y="707.26" width="10.9" height="10.9" fill="#c6e3b9"/><rect x="561.94" y="720.32" width="10.9" height="10.9" fill="#c6e3b9"/><rect x="561.94" y="733.37" width="10.9" height="10.9" fill="#c6e3b9"/><rect x="561.94" y="746.42" width="10.9" height="10.9" fill="#eeeeee"/><rect x="574.99" y="668.10" width="10.9" height="10.9" fill="#c6e3b9"/><rect x="574.99" y="681.15" width="10.9" height="10.9" fill="#c6e3b9"/><rect x="574.99" y="694.21" width="10.9" height="10.9" fill="#c6e3b9"/><rect x="574.99" y="707.26" width="10.9" height="10.9" fill="#eeeeee"/><rect x="574.99" y="720.32" width="10.9" height="10.9" fill="#c6e3b9"/><rect x="574.99" y="733.37" width="10.9" height="10.9" fill="#8dc67a"/><rect x="574.99" y="746.42" width="10.9" height="10.9" fill="#eeeeee"/><rect x="588.04" y="668.10" width="10.9" height="10.9" fill="#eeeeee"/><rect x="588.04" y="681.15" width="10.9" height="10.9" fill="#8dc67a"/><rect x="588.04" y="694.21" width="10.9" height="10.9" fill="#8dc67a"/><rect x="588.04" y="707.26" width="10.9" height="10.9" fill="#8dc67a"/><rect x="588.04" y="720.32" width="10.9" height="10.9" fill="#c6e3b9"/><rect x="588.04" y="733.37" width="10.9" height="10.9" fill="#c6e3b9"/><rect x="588.04" y="746.42" width="10.9" height="10.9" fill="#eeeeee"/><rect x="601.10" y="668.10" width="10.9" height="10.9" fill="#eeeeee"/><rect x="601.10" y="681.15" width="10.9" height="10.9" fill="#c6e3b9"/><rect x="601.10" y="694.21" width="10.9" height="10.9" fill="#c6e3b9"/><rect x="601.10" y="707.26" width="10.9" height="10.9" fill="#c6e3b9"/><rect x="601.10" y="720.32" width="10.9" height="10.9" fill="#8dc67a"/><rect x="601.10" y="733.37" width="10.9" height="10.9" fill="#c6e3b9"/><rect x="601.10" y="746.42" width="10.9" height="10.9" fill="#eeeeee"/><rect x="614.15" y="668.10" width="10.9" height="10.9" fill="#c6e3b9"/><rect x="614.15" y="681.15" width="10.9" height="10.9" fill="#c6e3b9"/><rect x="614.15" y="694.21" width="10.9" height="10.9" fill="#8dc67a"/><rect x="614.15" y="707.26" width="10.9" height="10.9" fill="#c6e3b9"/><rect x="614.15" y="720.32" width="10.9" height="10.9" fill="#eeeeee"/><rect x="614.15" y="733.37" width="10.9" height="10.9" fill="#8dc67a"/><rect x="614.15" y="746.42" width="10.9" height="10.9" fill="#eeeeee"/><rect x="627.21" y="668.10" width="10.9" height="10.9" fill="#eeeeee"/><rect x="627.21" y="681.15" width="10.9" height="10.9" fill="#c6e3b9"/><rect x="627.21" y="694.21" width="10.9" height="10.9" fill="#c6e3b9"/><rect x="627.21" y="707.26" width="10.9" height="10.9" fill="#c6e3b9"/><rect x="627.21" y="720.32" width="10.9" height="10.9" fill="#c6e3b9"/><rect x="627.21" y="733.37" width="10.9" height="10.9" fill="#67b04b"/><rect x="627.21" y="746.42" width="10.9" height="10.9" fill="#eeeeee"/><rect x="640.26" y="668.10" width="10.9" height="10.9" fill="#eeeeee"/><rect x="640.26" y="681.15" width="10.9" height="10.9" fill="#c6e3b9"/><rect x="640.26" y="694.21" width="10.9" height="10.9" fill="#8dc67a"/><rect x="640.26" y="707.26" width="10.9" height="10.9" fill="#8dc67a"/><rect x="640.26" y="720.32" width="10.9" height="10.9" fill="#8dc67a"/><rect x="640.26" y="733.37" width="10.9" height="10.9" fill="#8dc67a"/><rect x="640.26" y="746.42" width="10.9" height="10.9" fill="#c6e3b9"/><rect x="653.31" y="668.10" width="10.9" height="10.9" fill="#eeeeee"/><rect x="653.31" y="681.15" width="10.9" height="10.9" fill="#c6e3b9"/><rect x="653.31" y="694.21" width="10.9" height="10.9" fill="#8dc67a"/><rect x="653.31" y="707.26" width="10.9" height="10.9" fill="#67b04b"/><rect x="653.31" y="720.32" width="10.9" height="10.9" fill="#c6e3b9"/><rect x="653.31" y="733.37" width="10.9" height="10.9" fill="#c6e3b9"/><rect x="653.31" y="746.42" width="10.9" height="10.9" fill="#eeeeee"/><rect x="666.37" y="668.10" width="10.9" height="10.9" fill="#eeeeee"/><rect x="666.37" y="681.15" width="10.9" height="10.9" fill="#c6e3b9"/><rect x="666.37" y="694.21" width="10.9" height="10.9" fill="#8dc67a"/><rect x="666.37" y="707.26" width="10.9" height="10.9" fill="#67b04b"/><rect x="666.37" y="720.32" width="10.9" height="10.9" fill="#c6e3b9"/><rect x="666.37" y="733.37" width="10.9" height="10.9" fill="#c6e3b9"/><rect x="666.37" y="746.42" width="10.9" height="10.9" fill="#c6e3b9"/><rect x="679.42" y="668.10" width="10.9" height="10.9" fill="#eeeeee"/><rect x="679.42" y="681.15" width="10.9" height="10.9" fill="#c6e3b9"/><rect x="679.42" y="694.21" width="10.9" height="10.9" fill="#c6e3b9"/><rect x="679.42" y="707.26" width="10.9" height="10.9" fill="#8dc67a"/><rect x="679.42" y="720.32" width="10.9" height="10.9" fill="#8dc67a"/><rect x="679.42" y="733.37" width="10.9" height="10.9" fill="#8dc67a"/><rect x="679.42" y="746.42" width="10.9" height="10.9" fill="#c6e3b9"/><rect x="692.48" y="668.10" width="10.9" height="10.9" fill="#eeeeee"/><rect x="692.48" y="681.15" width="10.9" height="10.9" fill="#5b9b3e"/><rect x="692.48" y="694.21" width="10.9" height="10.9" fill="#c6e3b9"/><rect x="692.48" y="707.26" width="10.9" height="10.9" fill="#8dc67a"/><rect x="692.48" y="720.32" width="10.9" height="10.9" fill="#8dc67a"/><rect x="692.48" y="733.37" width="10.9" height="10.9" fill="#c6e3b9"/><rect x="692.48" y="746.42" width="10.9" height="10.9" fill="#eeeeee"/><rect x="705.53" y="668.10" width="10.9" height="10.9" fill="#eeeeee"/><rect x="705.53" y="681.15" width="10.9" height="10.9" fill="#c6e3b9"/><rect x="705.53" y="694.21" width="10.9" height="10.9" fill="#67b04b"/><rect x="705.53" y="707.26" width="10.9" height="10.9" fill="#c6e3b9"/><rect x="705.53" y="720.32" width="10.9" height="10.9" fill="#67b04b"/><rect x="705.53" y="733.37" width="10.9" height="10.9" fill="#c6e3b9"/><rect x="705.53" y="746.42" width="10.9" height="10.9" fill="#eeeeee"/><rect x="718.58" y="668.10" width="10.9" height="10.9" fill="#eeeeee"/><rect x="718.58" y="681.15" width="10.9" height="10.9" fill="#8dc67a"/><rect x="718.58" y="694.21" width="10.9" height="10.9" fill="#c6e3b9"/><rect x="718.58" y="707.26" width="10.9" height="10.9" fill="#c6e3b9"/><rect x="718.58" y="720.32" width="10.9" height="10.9" fill="#8dc67a"/><rect x="718.58" y="733.37" width="10.9" height="10.9" fill="#eeeeee"/><rect x="718.58" y="746.42" width="10.9" height="10.9" fill="#c6e3b9"/><rect x="731.64" y="668.10" width="10.9" height="10.9" fill="#eeeeee"/><rect x="731.64" y="681.15" width="10.9" height="10.9" fill="#c6e3b9"/><rect x="731.64" y="694.21" width="10.9" height="10.9" fill="#8dc67a"/><rect x="731.64" y="707.26" width="10.9" height="10.9" fill="#8dc67a"/><rect x="731.64" y="720.32" width="10.9" height="10.9" fill="#c6e3b9"/><rect x="731.64" y="733.37" width="10.9" height="10.9" fill="#c6e3b9"/><rect x="731.64" y="746.42" width="10.9" height="10.9" fill="#c6e3b9"/><rect x="744.69" y="668.10" width="10.9" height="10.9" fill="#eeeeee"/><rect x="744.69" y="681.15" width="10.9" height="10.9" fill="#8dc67a"/><rect x="744.69" y="694.21" width="10.9" height="10.9" fill="#c6e3b9"/><rect x="744.69" y="707.26" width="10.9" height="10.9" fill="#c6e3b9"/><rect x="744.69" y="720.32" width="10.9" height="10.9" fill="#c6e3b9"/><rect x="744.69" y="733.37" width="10.9" height="10.9" fill="#8dc67a"/><rect x="744.69" y="746.42" width="10.9" height="10.9" fill="#eeeeee"/><rect x="757.75" y="668.10" width="10.9" height="10.9" fill="#eeeeee"/><rect x="757.75" y="681.15" width="10.9" height="10.9" fill="#c6e3b9"/><rect x="757.75" y="694.21" width="10.9" height="10.9" fill="#8dc67a"/><rect x="757.75" y="707.26" width="10.9" height="10.9" fill="#c6e3b9"/><rect x="757.75" y="720.32" width="10.9" height="10.9" fill="#c6e3b9"/><rect x="757.75" y="733.37" width="10.9" height="10.9" fill="#eeeeee"/><rect x="757.75" y="746.42" width="10.9" height="10.9" fill="#eeeeee"/><rect x="770.80" y="668.10" width="10.9" height="10.9" fill="#eeeeee"/><rect x="770.80" y="681.15" width="10.9" height="10.9" fill="#c6e3b9"/><rect x="770.80" y="694.21" width="10.9" height="10.9" fill="#c6e3b9"/><rect x="770.80" y="707.26" width="10.9" height="10.9" fill="#c6e3b9"/><rect x="770.80" y="720.32" width="10.9" height="10.9" fill="#eeeeee"/><rect x="770.80" y="733.37" width="10.9" height="10.9" fill="#eeeeee"/><rect x="770.80" y="746.42" width="10.9" height="10.9" fill="#eeeeee"/><rect x="783.85" y="668.10" width="10.9" height="10.9" fill="#eeeeee"/><rect x="783.85" y="681.15" width="10.9" height="10.9" fill="#c6e3b9"/><rect x="783.85" y="694.21" width="10.9" height="10.9" fill="#eeeeee"/><rect x="783.85" y="707.26" width="10.9" height="10.9" fill="#c6e3b9"/><rect x="783.85" y="720.32" width="10.9" height="10.9" fill="#c6e3b9"/><rect x="783.85" y="733.37" width="10.9" height="10.9" fill="#eeeeee"/><rect x="783.85" y="746.42" width="10.9" height="10.9" fill="#eeeeee"/><rect x="796.91" y="668.10" width="10.9" height="10.9" fill="#eeeeee"/><rect x="796.91" y="681.15" width="10.9" height="10.9" fill="#eeeeee"/><rect x="796.91" y="694.21" width="10.9" height="10.9" fill="#67b04b"/><rect x="796.91" y="707.26" width="10.9" height="10.9" fill="#eeeeee"/><rect x="796.91" y="720.32" width="10.9" height="10.9" fill="#c6e3b9"/><text x="149.8" y="660.5" text-anchor="middle">Jan</text><text x="202.1" y="660.5" text-anchor="middle">Feb</text><text x="267.3" y="660.5" text-anchor="middle">Mar</text><text x="319.5" y="660.5" text-anchor="middle">Apr</text><text x="378.3" y="660.5" text-anchor="middle">May</text><text x="437.0" y="660.5" text-anchor="middle">Jun</text><text x="489.2" y="660.5" text-anchor="middle">Jul</text><text x="548.0" y="660.5" text-anchor="middle">Aug</text><text x="606.7" y="660.5" text-anchor="middle">Sep</text><text x="658.9" y="660.5" text-anchor="middle">Oct</text><text x="724.2" y="660.5" text-anchor="middle">Nov</text><text x="776.4" y="660.5" text-anchor="middle">Dec</text><text transform="translate(109.8,712.7) rotate(-90)" text-anchor="middle">2020</text><rect x="118.10" y="863.07" width="10.9" height="10.9" fill="#eeeeee"/><rect x="118.10" y="876.12" width="10.9" height="10.9" fill="#eeeeee"/><rect x="131.15" y="797.80" width="10.9" height="10.9" fill="#eeeeee"/><rect x="131.15" y="810.85" width="10.9" height="10.9" fill="#eeeeee"/><rect x="131.15" y="823.91" width="10.9" height="10.9" fill="#eeeeee"/><rect x="131.15" y="836.96" width="10.9" height="10.9" fill="#c6e3b9"/><rect x="131.15" y="850.02" width="10.9" height="10.9" fill="#8dc67a"/><rect x="131.15" y="863.07" width="10.9" height="10.9" fill="#c6e3b9"/><rect x="131.15" y="876.12" width="10.9" height="10.9" fill="#eeeeee"/><rect x="144.21" y="797.80" width="10.9" height="10.9" fill="#eeeeee"/><rect x="144.21" y="810.85" width="10.9" height="10.9" fill="#c6e3b9"/><rect x="144.21" y="823.91" width="10.9" height="10.9" fill="#eeeeee"/><rect x="144.21" y="836.96" width="10.9" height="10.9" fill="#c6e3b9"/><rect x="144.21" y="850.02" width="10.9" height="10.9" fill="#8dc67a"/><rect x="144.21" y="863.07" width="10.9" height="10.9" fill="#8dc67a"/><rect x="144.21" y="876.12" width="10.9" height="10.9" fill="#c6e3b9"/><rect x="157.26" y="797.80" width="10.9" height="10.9" fill="#c6e3b9"/><rect x="157.26" y="810.85" width="10.9" height="10.9" fill="#c6e3b9"/><rect x="157.26" y="823.91" width="10.9" height="10.9" fill="#8dc67a"/><rect x="157.26" y="836.96" width="10.9" height="10.9" fill="#c6e3b9"/><rect x="157.26" y="850.02" width="10.9" height="10.9" fill="#c6e3b9"/><rect x="157.26" y="863.07" width="10.9" height="10.9" fill="#8dc67a"/><rect x="157.26" y="876.12" width="10.9" height="10.9" fill="#eeeeee"/><rect x="170.32" y="797.80" width="10.9" height="10.9" fill="#eeeeee"/><rect x="170.32" y="810.85" width="10.9" height="10.9" fill="#8dc67a"/><rect x="170.32" y="823.91" width="10.9" height="10.9" fill="#c6e3b9"/><rect x="170.32" y="836.96" width="10.9" height="10.9" fill="#eeeeee"/><rect x="170.32" y="850.02" width="10.9" height="10.9" fill="#8dc67a"/><rect x="170.32" y="863.07" width="10.9" height="10.9" fill="#c6e3b9"/><rect x="170.32" y="876.12" width="10.9" height="10.9" fill="#c6e3b9"/><rect x="183.37" y="797.80" width="10.9" height="10.9" fill="#eeeeee"/><rect x="183.37" y="810.85" width="10.9" height="10.9" fill="#c6e3b9"/><rect x="183.37" y="823.91" width="10.9" height="10.9" fill="#8dc67a"/><rect x="183.37" y="836.96" width="10.9" height="10.9" fill="#c6e3b9"/><rect x="183.37" y="850.02" width="10.9" height="10.9" fill="#c6e3b9"/><rect x="183.37" y="863.07" width="10.9" height="10.9" fill="#c6e3b9"/><rect x="183.37" y="876.12" width="10.9" height="10.9" fill="#eeeeee"/><rect x="196.42" y="797.80" width="10.9" height="10.9" fill="#eeeeee"/><rect x="196.42" y="810.85" width="10.9" height="10.9" fill="#8dc67a"/><rect x="196.42" y="823.91" width="10.9" height="10.9" fill="#c6e3b9"/><rect x="196.42" y="836.96" width="10.9" height="10.9" fill="#c6e3b9"/><rect x="196.42" y="850.02" width="10.9" height="10.9" fill="#c6e3b9"/><rect x="196.42" y="863.07" width="10.9" height="10.9" fill="#c6e3b9"/><rect x="196.42" y="876.12" width="10.9" height="10.9" fill="#c6e3b9"/><rect x="209.48" y="797.80" width="10.9" height="10.9" fill="#eeeeee"/><rect x="209.48" y="810.85" width="10.9" height="10.9" fill="#8dc67a"/><rect x="209.48" y="823.91" width="10.9" height="10.9" fill="#c6e3b9"/><rect x="209.48" y="836.96" width="10.9" height="10.9" fill="#8dc67a"/><rect x="209.48" y="850.02" width="10.9" height="10.9" fill="#8dc67a"/><rect x="209.48" y="863.07" width="10.9" height="10.9" fill="#8dc67a"/><rect x="209.48" y="876.12" width="10.9" height="10.9" fill="#eeeeee"/><rect x="222.53" y="797.80" width="10.9" height="10.9" fill="#eeeeee"/><rect x="222.53" y="810.85" width="10.9" height="10.9" fill="#5b9b3e"/><rect x="222.53" y="823.91" width="10.9" height="10.9" fill="#c6e3b9"/><rect x="222.53" y="836.96" width="10.9" height="10.9" fill="#eeeeee"/><rect x="222.53" y="850.02" width="10.9" height="10.9" fill="#67b04b"/><rect x="222.53" y="863.07" width="10.9" height="10.9" fill="#8dc67a"/><rect x="222.53" y="876.12" width="10.9" height="10.9" fill="#8dc67a"/><rect x="235.59" y="797.80" width="10.9" height="10.9" fill="#eeeeee"/><rect x="235.59" y="810.85" width="10.9" height="10.9" fill="#8dc67a"/><rect x="235.59" y="823.91" width="10.9" height="10.9" fill="#eeeeee"/><rect x="235.59" y="836.96" width="10.9" height="10.9" fill="#c6e3b9"/><rect x="235.59" y="850.02" width="10.9" height="10.9" fill="#8dc67a"/><rect x="235.59" y="863.07" width="10.9" height="10.9" fill="#8dc67a"/><rect x="235.59" y="876.12" width="10.9" height="10.9" fill="#c6e3b9"/><rect x="248.64" y="797.80" width="10.9" height="10.9" fill="#eeeeee"/><rect x="248.64" y="810.85" width="10.9" height="10.9" fill="#c6e3b9"/><rect x="248.64" y="823.91" width="10.9" height="10.9" fill="#eeeeee"/><rect x="248.64" y="836.96" width="10.9" height="10.9" fill="#67b04b"/><rect x="248.64" y="850.02" width="10.9" height="10.9" fill="#c6e3b9"/><rect x="248.64" y="863.07" width="10.9" height="10.9" fill="#67b04b"/><rect x="248.64" y="876.12" width="10.9" height="10.9" fill="#eeeeee"/><rect x="261.69" y="797.80" width="10.9" height="10.9" fill="#eeeeee"/><rect x="261.69" y="810.85" width="10.9" height="10.9" fill="#c6e3b9"/><rect x="261.69" y="823.91" width="10.9" height="10.9" fill="#c6e3b9"/><rect x="261.69" y="836.96" width="10.9" height="10.9" fill="#8dc67a"/><rect x="261.69" y="850.02" width="10.9" height="10.9" fill="#c6e3b9"/><rect x="261.69" y="863.07" width="10.9" height="10.9" fill="#c6e3b9"/><rect x="261.69" y="876.12" width="10.9" height="10.9" fill="#eeeeee"/><rect x="274.75" y="797.80" width="10.9" height="10.9" fill="#c6e3b9"/><rect x="274.75" y="810.85" width="10.9" height="10.9" fill="#67b04b"/><rect x="274.75" y="823.91" width="10.9" height="10.9" fill="#eeeeee"/><rect x="274.75" y="836.96" width="10.9" height="10.9" fill="#67b04b"/><rect x="274.75" y="850.02" width="10.9" height="10.9" fill="#eeeeee"/><rect x="274.75" y="863.07" width="10.9" height="10.9" fill="#c6e3b9"/><rect x="274.75" y="876.12" width="10.9" height="10.9" fill="#c6e3b9"/><rect x="287.80" y="797.80" width="10.9" height="10.9" fill="#eeeeee"/><rect x="287.80" y="810.85" width="10.9" height="10.9" fill="#8dc67a"/><rect x="287.80" y="823.91" width="10.9" height="10.9" fill="#c6e3b9"/><rect x="287.80" y="836.96" width="10.9" height="10.9" fill="#c6e3b9"/><rect x="287.80" y="850.02" width="10.9" height="10.9" fill="#8dc67a"/><rect x="287.80" y="863.07" width="10.9" height="10.9" fill="#8dc67a"/><rect x="287.80" y="876.12" width="10.9" height="10.9" fill="#c6e3b9"/><rect x="300.86" y="797.80" width="10.9" height="10.9" fill="#eeeeee"/><rect x="300.86" y="810.85" width="10.9" height="10.9" fill="#c6e3b9"/><rect x="300.86" y="823.91" width="10.9" height="10.9" fill="#c6e3b9"/><rect x="300.86" y="836.96" width="10.9" height="10.9" fill="#c6e3b9"/><rect x="300.86" y="850.02" width="10.9" height="10.9" fill="#8dc67a"/><rect x="300.86" y="863.07" width="10.9" height="10.9" fill="#c6e3b9"/><rect x="300.86" y="876.12" width="10.9" height="10.9" fill="#eeeeee"/><rect x="313.91" y="797.80" width="10.9" height="10.9" fill="#eeeeee"/><rect x="313.91" y="810.85" width="10.9" height="10.9" fill="#c6e3b9"/><rect x="313.91" y="823.91" width="10.9" height="10.9" fill="#c6e3b9"/><rect x="313.91" y="836.96" width="10.9" height="10.9" fill="#c6e3b9"/><rect x="313.91" y="850.02" width="10.9" height="10.9" fill="#c6e3b9"/><rect x="313.91" y="863.07" width="10.9" height="10.9" fill="#eeeeee"/><rect x="313.91" y="876.12" width="10.9" height="10.9" fill="#c6e3b9"/><rect x="326.96" y="797.80" width="10.9" height="10.9" fill="#eeeeee"/><rect x="326.96" y="810.85" width="10.9" height="10.9" fill="#5b9b3e"/><rect x="326.96" y="823.91" width="10.9" height="10.9" fill="#c6e3b9"/><rect x="326.96" y="836.96" width="10.9" height="10.9" fill="#8dc67a"/><rect x="326.96" y="850.02" width="10.9" height="10.9" fill="#c6e3b9"/><rect x="326.96" y="863.07" width="10.9" height="10.9" fill="#67b04b"/><rect x="326.96" y="876.12" width="10.9" height="10.9" fill="#c6e3b9"/><rect x="340.02" y="797.80" width="10.9" height="10.9" fill="#eeeeee"/><rect x="340.02" y="810.85" width="10.9" height="10.9" fill="#c6e3b9"/><rect x="340.02" y="823.91" width="10.9" height="10.9" fill="#67b04b"/><rect x="340.02" y="836.96" width="10.9" height="10.9" fill="#67b04b"/><rect x="340.02" y="850.02" width="10.9" height="10.9" fill="#c6e3b9"/><rect x="340.02" y="863.07" width="10.9" height="10.9" fill="#67b04b"/><rect x="340.02" y="876.12" width="10.9" height="10.9" fill="#c6e3b9"/><rect x="353.07" y="797.80" width="10.9" height="10.9" fill="#eeeeee"/><rect x="353.07" y="810.85" width="10.9" height="10.9" fill="#67b04b"/><rect x="353.07" y="823.91" width="10.9" height="10.9" fill="#8dc67a"/><rect x="353.07" y="836.96" width="10.9" height="10.9" fill="#8dc67a"/><rect x="353.07" y="850.02" width="10.9" height="10.9" fill="#8dc67a"/><rect x="353.07" y="863.07" width="10.9" height="10.9" fill="#c6e3b9"/><rect x="353.07" y="876.12" width="10.9" height="10.9" fill="#eeeeee"/><rect x="366.13" y="797.80" width="10.9" height="10.9" fill="#eeeeee"/><rect x="366.13" y="810.85" width="10.9" height="10.9" fill="#8dc67a"/><rect x="366.13" y="823.91" width="10.9" height="10.9" fill="#67b04b"/><rect x="366.13" y="836.96" width="10.9" height="10.9" fill="#eeeeee"/><rect x="366.13" y="850.02" width="10.9" height="10.9" fill="#8dc67a"/><rect x="366.13" y="863.07" width="10.9" height="10.9" fill="#c6e3b9"/><rect x="366.13" y="876.12" width="10.9" height="10.9" fill="#eeeeee"/><rect x="379.18" y="797.80" width="10.9" height="10.9" fill="#eeeeee"/><rect x="379.18" y="810.85" width="10.9" height="10.9" fill="#8dc67a"/><rect x="379.18" y="823.91" width="10.9" height="10.9" fill="#67b04b"/><rect x="379.18" y="836.96" width="10.9" height="10.9" fill="#67b04b"/><rect x="379.18" y="850.02" width="10.9" height="10.9" fill="#c6e3b9"/><rect x="379.18" y="863.07" width="10.9" height="10.9" fill="#67b04b"/><rect x="379.18" y="876.12" width="10.9" height="10.9" fill="#c6e3b9"/><rect x="392.23" y="797.80" width="10.9" height="10.9" fill="#eeeeee"/><rect x="392.23" y="810.85" width="10.9" height="10.9" fill="#5b9b3e"/><rect x="392.23" y="823.91" width="10.9" height="10.9" fill="#67b04b"/><rect x="392.23" y="836.96" width="10.9" height="10.9" fill="#c6e3b9"/><rect x="392.23" y="850.02" width="10.9" height="10.9" fill="#67b04b"/><rect x="392.23" y="863.07" width="10.9" height="10.9" fill="#eeeeee"/><rect x="392.23" y="876.12" width="10.9" height="10.9" fill="#eeeeee"/><rect x="405.29" y="797.80" width="10.9" height="10.9" fill="#eeeeee"/><rect x="405.29" y="810.85" width="10.9" height="10.9" fill="#8dc67a"/><rect x="405.29" y="823.91" width="10.9" height="10.9" fill="#67b04b"/><rect x="405.29" y="836.96" width="10.9" height="10.9" fill="#8dc67a"/><rect x="405.29" y="850.02" width="10.9" height="10.9" fill="#67b04b"/><rect x="405.29" y="863.07" width="10.9" height="10.9" fill="#eeeeee"/><rect x="405.29" y="876.12" width="10.9" height="10.9" fill="#eeeeee"/><rect x="418.34" y="797.80" width="10.9" height="10.9" fill="#eeeeee"/><rect x="418.34" y="810.85" width="10.9" height="10.9" fill="#67b04b"/><rect x="418.34" y="823.91" width="10.9" height="10.9" fill="#c6e3b9"/><rect x="418.34" y="836.96" width="10.9" height="10.9" fill="#8dc67a"/><rect x="418.34" y="850.02" width="10.9" height="10.9" fill="#8dc67a"/><rect x="418.34" y="863.07" width="10.9" height="10.9" fill="#67b04b"/><rect x="418.34" y="876.12" width="10.9" height="10.9" fill="#eeeeee"/><rect x="431.40" y="797.80" width="10.9" height="10.9" fill="#eeeeee"/><rect x="431.40" y="810.85" width="10.9" height="10.9" fill="#c6e3b9"/><rect x="431.40" y="823.91" width="10.9" height="10.9" fill="#8dc67a"/><rect x="431.40" y="836.96" width="10.9" height="10.9" fill="#8dc67a"/><rect x="431.40" y="850.02" width="10.9" height="10.9" fill="#67b04b"/><rect x="431.40" y="863.07" width="10.9" height="10.9" fill="#c6e3b9"/><rect x="431.40" y="876.12" width="10.9" height="10.9" fill="#eeeeee"/><rect x="444.45" y="797.80" width="10.9" height="10.9" fill="#eeeeee"/><rect x="444.45" y="810.85" width="10.9" height="10.9" fill="#eeeeee"/><rect x="444.45" y="823.91" width="10.9" height="10.9" fill="#eeeeee"/><rect x="444.45" y="836.96" width="10.9" height="10.9" fill="#eeeeee"/><rect x="444.45" y="850.02" width="10.9" height="10.9" fill="#eeeeee"/><rect x="444.45" y="863.07" width="10.9" height="10.9" fill="#eeeeee"/><rect x="444.45" y="876.12" width="10.9" height="10.9" fill="#eeeeee"/><rect x="457.50" y="797.80" width="10.9" height="10.9" fill="#eeeeee"/><rect x="457.50" y="810.85" width="10.9" height="10.9" fill="#eeeeee"/><rect x="457.50" y="823.91" width="10.9" height="10.9" fill="#eeeeee"/><rect x="457.50" y="836.96" width="10.9" height="10.9" fill="#eeeeee"/><rect x="457.50" y="850.02" width="10.9" height="10.9" fill="#eeeeee"/><rect x="457.50" y="863.07" width="10.9" height="10.9" fill="#eeeeee"/><rect x="457.50" y="876.12" width="10.9" height="10.9" fill="#eeeeee"/><rect x="470.56" y="797.80" width="10.9" height="10.9" fill="#eeeeee"/><rect x="470.56" y="810.85" width="10.9" height="10.9" fill="#eeeeee"/><rect x="470.56" y="823.91" width="10.9" height="10.9" fill="#eeeeee"/><rect x="470.56" y="836.96" width="10.9" height="10.9" fill="#eeeeee"/><rect x="470.56" y="850.02" width="10.9" height="10.9" fill="#eeeeee"/><rect x="470.56" y="863.07" width="10.9" height="10.9" fill="#eeeeee"/><rect x="470.56" y="876.12" width="10.9" height="10.9" fill="#eeeeee"/><rect x="483.61" y="797.80" width="10.9" height="10.9" fill="#eeeeee"/><rect x="483.61" y="810.85" width="10.9" height="10.9" fill="#eeeeee"/><rect x="483.61" y="823.91" width="10.9" height="10.9" fill="#eeeeee"/><rect x="483.61" y="836.96" width="10.9" height="10.9" fill="#eeeeee"/><rect x="483.61" y="850.02" width="10.9" height="10.9" fill="#eeeeee"/><rect x="483.61" y="863.07" width="10.9" height="10.9" fill="#eeeeee"/><rect x="483.61" y="876.12" width="10.9" height="10.9" fill="#eeeeee"/><rect x="496.67" y="797.80" width="10.9" height="10.9" fill="#eeeeee"/><rect x="496.67" y="810.85" width="10.9" height="10.9" fill="#eeeeee"/><rect x="496.67" y="823.91" width="10.9" height="10.9" fill="#eeeeee"/><rect x="496.67" y="836.96" width="10.9" height="10.9" fill="#eeeeee"/><rect x="496.67" y="850.02" width="10.9" height="10.9" fill="#eeeeee"/><rect x="496.67" y="863.07" width="10.9" height="10.9" fill="#eeeeee"/><rect x="496.67" y="876.12" width="10.9" height="10.9" fill="#eeeeee"/><rect x="509.72" y="797.80" width="10.9" height="10.9" fill="#eeeeee"/><rect x="509.72" y="810.85" width="10.9" height="10.9" fill="#eeeeee"/><rect x="509.72" y="823.91" width="10.9" height="10.9" fill="#eeeeee"/><rect x="509.72" y="836.96" width="10.9" height="10.9" fill="#eeeeee"/><rect x="509.72" y="850.02" width="10.9" height="10.9" fill="#eeeeee"/><rect x="509.72" y="863.07" width="10.9" height="10.9" fill="#eeeeee"/><rect x="509.72" y="876.12" width="10.9" height="10.9" fill="#eeeeee"/><rect x="522.77" y="797.80" width="10.9" height="10.9" fill="#eeeeee"/><rect x="522.77" y="810.85" width="10.9" height="10.9" fill="#eeeeee"/><rect x="522.77" y="823.91" width="10.9" height="10.9" fill="#eeeeee"/><rect x="522.77" y="836.96" width="10.9" height="10.9" fill="#eeeeee"/><rect x="522.77" y="850.02" width="10.9" height="10.9" fill="#eeeeee"/><rect x="522.77" y="863.07" width="10.9" height="10.9" fill="#eeeeee"/><rect x="522.77" y="876.12" width="10.9" height="10.9" fill="#eeeeee"/><rect x="535.83" y="797.80" width="10.9" height="10.9" fill="#eeeeee"/><rect x="535.83" y="810.85" width="10.9" height="10.9" fill="#eeeeee"/><rect x="535.83" y="823.91" width="10.9" height="10.9" fill="#eeeeee"/><rect x="535.83" y="836.96" width="10.9" height="10.9" fill="#eeeeee"/><rect x="535.83" y="850.02" width="10.9" height="10.9" fill="#eeeeee"/><rect x="535.83" y="863.07" width="10.9" height="10.9" fill="#eeeeee"/><rect x="535.83" y="876.12" width="10.9" height="10.9" fill="#eeeeee"/><rect x="548.88" y="797.80" width="10.9" height="10.9" fill="#eeeeee"/><rect x="548.88" y="810.85" width="10.9" height="10.9" fill="#eeeeee"/><rect x="548.88" y="823.91" width="10.9" height="10.9" fill="#eeeeee"/><rect x="548.88" y="836.96" width="10.9" height="10.9" fill="#eeeeee"/><rect x="548.88" y="850.02" width="10.9" height="10.9" fill="#eeeeee"/><rect x="548.88" y="863.07" width="10.9" height="10.9" fill="#eeeeee"/><rect x="548.88" y="876.12" width="10.9" height="10.9" fill="#eeeeee"/><rect x="561.94" y="797.80" width="10.9" height="10.9" fill="#eeeeee"/><rect x="561.94" y="810.85" width="10.9" height="10.9" fill="#eeeeee"/><rect x="561.94" y="823.91" width="10.9" height="10.9" fill="#eeeeee"/><rect x="561.94" y="836.96" width="10.9" height="10.9" fill="#eeeeee"/><rect x="561.94" y="850.02" width="10.9" height="10.9" fill="#eeeeee"/><rect x="561.94" y="863.07" width="10.9" height="10.9" fill="#eeeeee"/><rect x="561.94" y="876.12" width="10.9" height="10.9" fill="#eeeeee"/><rect x="574.99" y="797.80" width="10.9" height="10.9" fill="#eeeeee"/><rect x="574.99" y="810.85" width="10.9" height="10.9" fill="#eeeeee"/><rect x="574.99" y="823.91" width="10.9" height="10.9" fill="#eeeeee"/><rect x="574.99" y="836.96" width="10.9" height="10.9" fill="#eeeeee"/><rect x="574.99" y="850.02" width="10.9" height="10.9" fill="#eeeeee"/><rect x="574.99" y="863.07" width="10.9" height="10.9" fill="#eeeeee"/><rect x="574.99" y="876.12" width="10.9" height="10.9" fill="#eeeeee"/><rect x="588.04" y="797.80" width="10.9" height="10.9" fill="#eeeeee"/><rect x="588.04" y="810.85" width="10.9" height="10.9" fill="#eeeeee"/><rect x="588.04" y="823.91" width="10.9" height="10.9" fill="#eeeeee"/><rect x="588.04" y="836.96" width="10.9" height="10.9" fill="#eeeeee"/><rect x="588.04" y="850.02" width="10.9" height="10.9" fill="#eeeeee"/><rect x="588.04" y="863.07" width="10.9" height="10.9" fill="#eeeeee"/><rect x="588.04" y="876.12" width="10.9" height="10.9" fill="#eeeeee"/><rect x="601.10" y="797.80" width="10.9" height="10.9" fill="#eeeeee"/><rect x="601.10" y="810.85" width="10.9" height="10.9" fill="#eeeeee"/><rect x="601.10" y="823.91" width="10.9" height="10.9" fill="#eeeeee"/><rect x="601.10" y="836.96" width="10.9" height="10.9" fill="#eeeeee"/><rect x="601.10" y="850.02" width="10.9" height="10.9" fill="#eeeeee"/><rect x="601.10" y="863.07" width="10.9" height="10.9" fill="#eeeeee"/><rect x="601.10" y="876.12" width="10.9" height="10.9" fill="#eeeeee"/><rect x="614.15" y="797.80" width="10.9" height="10.9" fill="#eeeeee"/><rect x="614.15" y="810.85" width="10.9" height="10.9" fill="#eeeeee"/><rect x="614.15" y="823.91" width="10.9" height="10.9" fill="#eeeeee"/><rect x="614.15" y="836.96" width="10.9" height="10.9" fill="#eeeeee"/><rect x="614.15" y="850.02" width="10.9" height="10.9" fill="#eeeeee"/><rect x="614.15" y="863.07" width="10.9" height="10.9" fill="#eeeeee"/><rect x="614.15" y="876.12" width="10.9" height="10.9" fill="#eeeeee"/><rect x="627.21" y="797.80" width="10.9" height="10.9" fill="#eeeeee"/><rect x="627.21" y="810.85" width="10.9" height="10.9" fill="#eeeeee"/><rect x="627.21" y="823.91" width="10.9" height="10.9" fill="#eeeeee"/><rect x="627.21" y="836.96" width="10.9" height="10.9" fill="#eeeeee"/><rect x="627.21" y="850.02" width="10.9" height="10.9" fill="#eeeeee"/><rect x="627.21" y="863.07" width="10.9" height="10.9" fill="#eeeeee"/><rect x="627.21" y="876.12" width="10.9" height="10.9" fill="#eeeeee"/><rect x="640.26" y="797.80" width="10.9" height="10.9" fill="#eeeeee"/><rect x="640.26" y="810.85" width="10.9" height="10.9" fill="#eeeeee"/><rect x="640.26" y="823.91" width="10.9" height="10.9" fill="#eeeeee"/><rect x="640.26" y="836.96" width="10.9" height="10.9" fill="#eeeeee"/><rect x="640.26" y="850.02" width="10.9" height="10.9" fill="#eeeeee"/><rect x="640.26" y="863.07" width="10.9" height="10.9" fill="#eeeeee"/><rect x="640.26" y="876.12" width="10.9" height="10.9" fill="#eeeeee"/><rect x="653.31" y="797.80" width="10.9" height="10.9" fill="#eeeeee"/><rect x="653.31" y="810.85" width="10.9" height="10.9" fill="#eeeeee"/><rect x="653.31" y="823.91" width="10.9" height="10.9" fill="#eeeeee"/><rect x="653.31" y="836.96" width="10.9" height="10.9" fill="#eeeeee"/><rect x="653.31" y="850.02" width="10.9" height="10.9" fill="#eeeeee"/><rect x="653.31" y="863.07" width="10.9" height="10.9" fill="#eeeeee"/><rect x="653.31" y="876.12" width="10.9" height="10.9" fill="#eeeeee"/><rect x="666.37" y="797.80" width="10.9" height="10.9" fill="#eeeeee"/><rect x="666.37" y="810.85" width="10.9" height="10.9" fill="#eeeeee"/><rect x="666.37" y="823.91" width="10.9" height="10.9" fill="#eeeeee"/><rect x="666.37" y="836.96" width="10.9" height="10.9" fill="#eeeeee"/><rect x="666.37" y="850.02" width="10.9" height="10.9" fill="#eeeeee"/><rect x="666.37" y="863.07" width="10.9" height="10.9" fill="#eeeeee"/><rect x="666.37" y="876.12" width="10.9" height="10.9" fill="#eeeeee"/><rect x="679.42" y="797.80" width="10.9" height="10.9" fill="#eeeeee"/><rect x="679.42" y="810.85" width="10.9" height="10.9" fill="#eeeeee"/><rect x="679.42" y="823.91" width="10.9" height="10.9" fill="#eeeeee"/><rect x="679.42" y="836.96" width="10.9" height="10.9" fill="#eeeeee"/><rect x="679.42" y="850.02" width="10.9" height="10.9" fill="#eeeeee"/><rect x="679.42" y="863.07" width="10.9" height="10.9" fill="#eeeeee"/><rect x="679.42" y="876.12" width="10.9" height="10.9" fill="#eeeeee"/><rect x="692.48" y="797.80" width="10.9" height="10.9" fill="#eeeeee"/><rect x="692.48" y="810.85" width="10.9" height="10.9" fill="#eeeeee"/><rect x="692.48" y="823.91" width="10.9" height="10.9" fill="#eeeeee"/><rect x="692.48" y="836.96" width="10.9" height="10.9" fill="#eeeeee"/><rect x="692.48" y="850.02" width="10.9" height="10.9" fill="#eeeeee"/><rect x="692.48" y="863.07" width="10.9" height="10.9" fill="#eeeeee"/><rect x="692.48" y="876.12" width="10.9" height="10.9" fill="#eeeeee"/><rect x="705.53" y="797.80" width="10.9" height="10.9" fill="#eeeeee"/><rect x="705.53" y="810.85" width="10.9" height="10.9" fill="#eeeeee"/><rect x="705.53" y="823.91" width="10.9" height="10.9" fill="#eeeeee"/><rect x="705.53" y="836.96" width="10.9" height="10.9" fill="#eeeeee"/><rect x="705.53" y="850.02" width="10.9" height="10.9" fill="#eeeeee"/><rect x="705.53" y="863.07" width="10.9" height="10.9" fill="#eeeeee"/><rect x="705.53" y="876.12" width="10.9" height="10.9" fill="#eeeeee"/><rect x="718.58" y="797.80" width="10.9" height="10.9" fill="#eeeeee"/><rect x="718.58" y="810.85" width="10.9" height="10.9" fill="#eeeeee"/><rect x="718.58" y="823.91" width="10.9" height="10.9" fill="#eeeeee"/><rect x="718.58" y="836.96" width="10.9" height="10.9" fill="#eeeeee"/><rect x="718.58" y="850.02" width="10.9" height="10.9" fill="#eeeeee"/><rect x="718.58" y="863.07" width="10.9" height="10.9" fill="#eeeeee"/><rect x="718.58" y="876.12" width="10.9" height="10.9" fill="#eeeeee"/><rect x="731.64" y="797.80" width="10.9" height="10.9" fill="#eeeeee"/><rect x="731.64" y="810.85" width="10.9" height="10.9" fill="#eeeeee"/><rect x="731.64" y="823.91" width="10.9" height="10.9" fill="#eeeeee"/><rect x="731.64" y="836.96" width="10.9" height="10.9" fill="#eeeeee"/><rect x="731.64" y="850.02" width="10.9" height="10.9" fill="#eeeeee"/><rect x="731.64" y="863.07" width="10.9" height="10.9" fill="#eeeeee"/><rect x="731.64" y="876.12" width="10.9" height="10.9" fill="#eeeeee"/><rect x="744.69" y="797.80" width="10.9" height="10.9" fill="#eeeeee"/><rect x="744.69" y="810.85" width="10.9" height="10.9" fill="#eeeeee"/><rect x="744.69" y="823.91" width="10.9" height="10.9" fill="#eeeeee"/><rect x="744.69" y="836.96" width="10.9" height="10.9" fill="#eeeeee"/><rect x="744.69" y="850.02" width="10.9" height="10.9" fill="#eeeeee"/><rect x="744.69" y="863.07" width="10.9" height="10.9" fill="#eeeeee"/><rect x="744.69" y="876.12" width="10.9" height="10.9" fill="#eeeeee"/><rect x="757.75" y="797.80" width="10.9" height="10.9" fill="#eeeeee"/><rect x="757.75" y="810.85" width="10.9" height="10.9" fill="#eeeeee"/><rect x="757.75" y="823.91" width="10.9" height="10.9" fill="#eeeeee"/><rect x="757.75" y="836.96" width="10.9" height="10.9" fill="#eeeeee"/><rect x="757.75" y="850.02" width="10.9" height="10.9" fill="#eeeeee"/><rect x="757.75" y="863.07" width="10.9" height="10.9" fill="#eeeeee"/><rect x="757.75" y="876.12" width="10.9" height="10.9" fill="#eeeeee"/><rect x="770.80" y="797.80" width="10.9" height="10.9" fill="#eeeeee"/><rect x="770.80" y="810.85" width="10.9" height="10.9" fill="#eeeeee"/><rect x="770.80" y="823.91" width="10.9" height="10.9" fill="#eeeeee"/><rect x="770.80" y="836.96" width="10.9" height="10.9" fill="#eeeeee"/><rect x="770.80" y="850.02" width="10.9" height="10.9" fill="#eeeeee"/><rect x="770.80" y="863.07" width="10.9" height="10.9" fill="#eeeeee"/><rect x="770.80" y="876.12" width="10.9" height="10.9" fill="#eeeeee"/><rect x="783.85" y="797.80" width="10.9" height="10.9" fill="#eeeeee"/><rect x="783.85" y="810.85" width="10.9" height="10.9" fill="#eeeeee"/><rect x="783.85" y="823.91" width="10.9" height="10.9" fill="#eeeeee"/><rect x="783.85" y="836.96" width="10.9" height="10.9" fill="#eeeeee"/><rect x="783.85" y="850.02" width="10.9" height="10.9" fill="#eeeeee"/><rect x="783.85" y="863.07" width="10.9" height="10.9" fill="#eeeeee"/><rect x="783.85" y="876.12" width="10.9" height="10.9" fill="#eeeeee"/><rect x="796.91" y="797.80" width="10.9" height="10.9" fill="#eeeeee"/><rect x="796.91" y="810.85" width="10.9" height="10.9" fill="#eeeeee"/><rect x="796.91" y="823.91" width="10.9" height="10.9" fill="#eeeeee"/><rect x="796.91" y="836.96" width="10.9" height="10.9" fill="#eeeeee"/><rect x="796.91" y="850.02" width="10.9" height="10.9" fill="#eeeeee"/><rect x="796.91" y="863.07" width="10.9" height="10.9" fill="#eeeeee"/><text x="156.4" y="790.2" text-anchor="middle">Jan</text><text x="215.1" y="790.2" text-anchor="middle">Feb</text><text x="267.3" y="790.2" text-anchor="middle">Mar</text><text x="319.5" y="790.2" text-anchor="middle">Apr</text><text x="378.3" y="790.2" text-anchor="middle">May</text><text x="437.0" y="790.2" text-anchor="middle">Jun</text><text x="489.2" y="790.2" text-anchor="middle">Jul</text><text x="554.5" y="790.2" text-anchor="middle">Aug</text><text x="606.7" y="790.2" text-anchor="middle">Sep</text><text x="665.5" y="790.2" text-anchor="middle">Oct</text><text x="724.2" y="790.2" text-anchor="middle">Nov</text><text x="776.4" y="790.2" text-anchor="middle">Dec</text><text transform="translate(109.8,842.4) rotate(-90)" text-anchor="middle">2021</text></svg>

<!-- Active -->
<div class="card" style="left:890px;top:162px;width:470px;height:800px"></div>
<div class="ct" style="left:910px;top:185px;letter-spacing:.15px">Active &amp; Upcoming</div>
<svg class="a" style="left:1326px;top:182px" width="16" height="23" viewBox="0 0 16 23">
  <path d="M5.5 2 L10.4 2 L8.5 7.6 L13.7 7.2 L7 20.7 L9.1 11.2 L3.4 11.6Z" fill="#62b044"/>
</svg>
<div class="sep" style="top:230px"></div><div class="sep" style="top:369px"></div><div class="sep" style="top:508px"></div><div class="sep" style="top:648px"></div><div class="sep" style="top:788px"></div><div class="badge" style="left:991px;top:258.0px;width:59px">NT-1550</div><div class="cname" style="left:991px;top:294.3px">Zayo</div><div class="pill" style="left:986px;top:321.2px;width:110px">23:00 - 19.06.2021</div><div class="to" style="left:1120.5px;top:325.0px">to</div><div class="pill" style="left:1167px;top:321.2px;width:109px">06:00 - 20.06.2021</div><div class="act" style="left:1286px;top:258.0px"></div><svg class="a" style="left:1298px;top:264.0px" width="26" height="26" viewBox="0 0 890 890" fill="none" stroke="#454545" stroke-width="64" stroke-linecap="round" stroke-linejoin="round"><path d="M400 230 H235 A65 65 0 0 0 170 295 V650 A65 65 0 0 0 235 715 H590 A65 65 0 0 0 655 650 V490"/><path d="M320 565 h112 l272 -272 a79 79 0 0 0 -112 -112 l-272 272 v112z"/></svg><svg class="a" style="left:1299.2px;top:310.7px" width="22.6" height="22.6" viewBox="0 0 24 24" fill="none" stroke="#454545" stroke-width="2.05" stroke-linecap="round" stroke-linejoin="round"><circle cx="12" cy="12" r="4"/><path d="M16 12v1.5a2.5 2.5 0 0 0 5 0v-1.5a9 9 0 1 0 -5.5 8.28"/></svg><svg class="a" style="left:925px;top:280.0px" width="42" height="42" viewBox="0 0 890 890">
<path d="M108 45 H805 L55 800 H45 V660 L585 105 H510 L350 270 H108 Q90 270 90 252 V63 Q90 45 108 45Z" fill="#f58220"/>
<path d="M840 90 V230 L310 780 H390 L570 600 H840 V790 Q840 840 790 840 H90Z" fill="#f58220"/>
</svg><div class="badge" style="left:991px;top:397.0px;width:59px">NT-1661</div><div class="cname" style="left:991px;top:433.3px">Avelacom</div><div class="pill" style="left:986px;top:460.2px;width:110px">11:00 - 19.06.2021</div><div class="to" style="left:1120.5px;top:464.0px">to</div><div class="pill" style="left:1167px;top:460.2px;width:109px">16:00 - 19.06.2021</div><div class="act" style="left:1286px;top:397.0px"></div><svg class="a" style="left:1298px;top:403.0px" width="26" height="26" viewBox="0 0 890 890" fill="none" stroke="#454545" stroke-width="64" stroke-linecap="round" stroke-linejoin="round"><path d="M400 230 H235 A65 65 0 0 0 170 295 V650 A65 65 0 0 0 235 715 H590 A65 65 0 0 0 655 650 V490"/><path d="M320 565 h112 l272 -272 a79 79 0 0 0 -112 -112 l-272 272 v112z"/></svg><svg class="a" style="left:1299.2px;top:449.3px" width="22.6" height="22.6" viewBox="0 0 24 24" fill="none" stroke="#454545" stroke-width="2.05" stroke-linecap="round" stroke-linejoin="round"><circle cx="12" cy="12" r="4"/><path d="M16 12v1.5a2.5 2.5 0 0 0 5 0v-1.5a9 9 0 1 0 -5.5 8.28"/></svg><div class="a" style="left:927px;top:421.0px;width:38px;height:38px;border-radius:2px;background:#d6d6d6"></div><div class="badge" style="left:991px;top:536.0px;width:59px">NT-1671</div><svg class="a" style="left:1054.8px;top:536.3px" width="22.2" height="22.2" viewBox="0 0 24 24" fill="none" stroke="#444" stroke-width="1.85" stroke-linecap="round" stroke-linejoin="round"><path d="M12 3a12 12 0 0 0 8.5 3a12 12 0 0 1 -8.5 15a12 12 0 0 1 -8.5 -15a12 12 0 0 0 8.5 -3"/><path d="M12 9.2v1.8"/><path d="M12 15.1v.01"/></svg><div class="cname" style="left:991px;top:573.4px">Azertelecom</div><div class="pill" style="left:986px;top:599.2px;width:110px">23:00 - 19.06.2021</div><div class="to" style="left:1120.5px;top:603.0px">to</div><div class="pill" style="left:1167px;top:599.2px;width:109px">02:00 - 20.06.2021</div><div class="act" style="left:1286px;top:536.7px"></div><svg class="a" style="left:1298px;top:542.0px" width="26" height="26" viewBox="0 0 890 890" fill="none" stroke="#454545" stroke-width="64" stroke-linecap="round" stroke-linejoin="round"><path d="M400 230 H235 A65 65 0 0 0 170 295 V650 A65 65 0 0 0 235 715 H590 A65 65 0 0 0 655 650 V490"/><path d="M320 565 h112 l272 -272 a79 79 0 0 0 -112 -112 l-272 272 v112z"/></svg><svg class="a" style="left:1299.2px;top:589.3px" width="22.6" height="22.6" viewBox="0 0 24 24" fill="none" stroke="#454545" stroke-width="2.05" stroke-linecap="round" stroke-linejoin="round"><circle cx="12" cy="12" r="4"/><path d="M16 12v1.5a2.5 2.5 0 0 0 5 0v-1.5a9 9 0 1 0 -5.5 8.28"/></svg><svg class="a" style="left:926px;top:558.0px" width="40" height="40" viewBox="0 0 890 890" fill="none" stroke="#6b6b6b" stroke-width="62" stroke-linecap="round" stroke-linejoin="round">
<path d="M120 780 H770"/>
<path d="M195 780 V235 A85 85 0 0 1 280 150 H605 A85 85 0 0 1 690 235 V780"/>
<path d="M330 290 H385 M505 290 H560 M330 430 H385 M505 430 H560" stroke-width="68"/>
<path d="M370 780 V635 A45 45 0 0 1 415 590 H470 A45 45 0 0 1 515 635 V780"/>
</svg><div class="badge" style="left:991px;top:675.0px;width:59px">NT-1676</div><svg class="a" style="left:1054.8px;top:675.3px" width="22.2" height="22.2" viewBox="0 0 24 24" fill="none" stroke="#444" stroke-width="1.85" stroke-linecap="round" stroke-linejoin="round"><path d="M12 3a12 12 0 0 0 8.5 3a12 12 0 0 1 -8.5 15a12 12 0 0 1 -8.5 -15a12 12 0 0 0 8.5 -3"/><path d="M12 9.2v1.8"/><path d="M12 15.1v.01"/></svg><div class="cname" style="left:991px;top:712.4px">GTT</div><div class="pill" style="left:986px;top:738.2px;width:110px">23:00 - 19.06.2021</div><div class="to" style="left:1120.5px;top:742.0px">to</div><div class="pill" style="left:1167px;top:738.2px;width:109px">05:00 - 20.06.2021</div><div class="act" style="left:1286px;top:675.9px"></div><svg class="a" style="left:1298px;top:681.0px" width="26" height="26" viewBox="0 0 890 890" fill="none" stroke="#454545" stroke-width="64" stroke-linecap="round" stroke-linejoin="round"><path d="M400 230 H235 A65 65 0 0 0 170 295 V650 A65 65 0 0 0 235 715 H590 A65 65 0 0 0 655 650 V490"/><path d="M320 565 h112 l272 -272 a79 79 0 0 0 -112 -112 l-272 272 v112z"/></svg><svg class="a" style="left:1299.2px;top:728.8px" width="22.6" height="22.6" viewBox="0 0 24 24" fill="none" stroke="#454545" stroke-width="2.05" stroke-linecap="round" stroke-linejoin="round"><circle cx="12" cy="12" r="4"/><path d="M16 12v1.5a2.5 2.5 0 0 0 5 0v-1.5a9 9 0 1 0 -5.5 8.28"/></svg><svg class="a" style="left:927px;top:700.1px" width="40" height="30" viewBox="0 0 40 30">
<text x="4.6" y="21.6" font-family="Liberation Sans, sans-serif" font-weight="bold" font-size="17.5" fill="#1c3c7c" letter-spacing="-0.9">gtt</text>
<circle cx="28.9" cy="11.9" r="1.6" fill="#fdb913"/><circle cx="31.9" cy="13.8" r="1.6" fill="#fdb913"/><circle cx="28.9" cy="15.7" r="1.6" fill="#fdb913"/>
</svg>
</body></html>
